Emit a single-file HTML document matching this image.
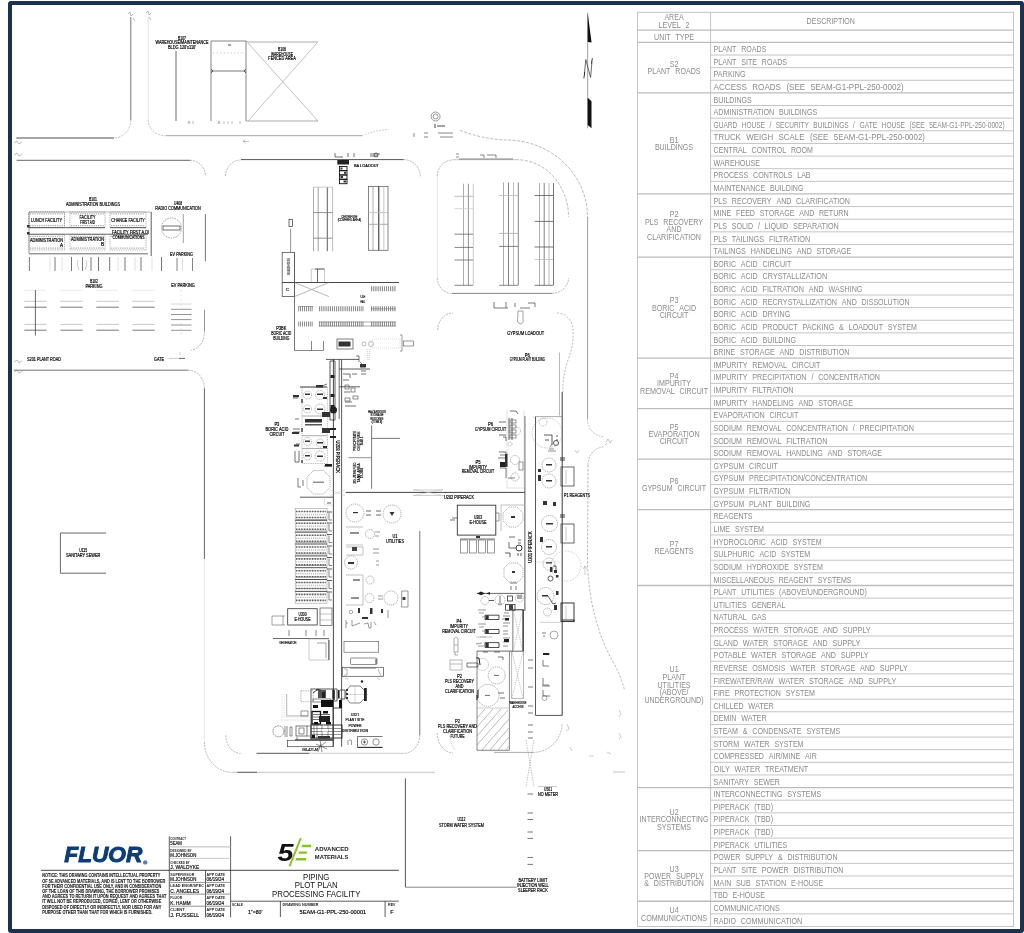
<!DOCTYPE html>
<html><head><meta charset="utf-8"><title>Piping Plot Plan</title>
<style>
html,body{margin:0;padding:0;background:#fff;width:1024px;height:933px;overflow:hidden}
#frame{position:absolute;left:7.5px;top:1px;width:1016.5px;height:932px;box-sizing:border-box;border:4.5px solid #1c3050;border-radius:3px}
svg{position:absolute;left:0;top:0;will-change:transform}
.t{font-family:"Liberation Sans",sans-serif;font-size:9.2px;fill:#8a8a8a}
.tl{stroke:#c4c4c4;stroke-width:1;fill:none}
.tg{stroke:#bcbcbc;stroke-width:1.3;fill:none}
.d{stroke:#333;stroke-width:0.8;fill:none}
.k{font-family:"Liberation Sans",sans-serif;fill:#222}
</style></head><body>
<svg width="1024" height="933" viewBox="0 0 1024 933">
<rect x="637.5" y="12.3" width="376.0" height="914.2" class="tl"/>
<line x1="710.6" y1="12.3" x2="710.6" y2="926.5" class="tl"/>
<line x1="637.5" y1="30.2" x2="1013.5" y2="30.2" class="tg"/>
<line x1="637.5" y1="42.4" x2="1013.5" y2="42.4" class="tg"/>
<line x1="710.6" y1="55.03" x2="1013.5" y2="55.03" class="tl"/>
<line x1="710.6" y1="67.66" x2="1013.5" y2="67.66" class="tl"/>
<line x1="710.6" y1="80.29" x2="1013.5" y2="80.29" class="tl"/>
<line x1="637.5" y1="92.92" x2="1013.5" y2="92.92" class="tg"/>
<line x1="710.6" y1="105.55" x2="1013.5" y2="105.55" class="tl"/>
<line x1="710.6" y1="118.18" x2="1013.5" y2="118.18" class="tl"/>
<line x1="710.6" y1="130.81" x2="1013.5" y2="130.81" class="tl"/>
<line x1="710.6" y1="143.44" x2="1013.5" y2="143.44" class="tl"/>
<line x1="710.6" y1="156.07" x2="1013.5" y2="156.07" class="tl"/>
<line x1="710.6" y1="168.70" x2="1013.5" y2="168.70" class="tl"/>
<line x1="710.6" y1="181.33" x2="1013.5" y2="181.33" class="tl"/>
<line x1="637.5" y1="193.96" x2="1013.5" y2="193.96" class="tg"/>
<line x1="710.6" y1="206.59" x2="1013.5" y2="206.59" class="tl"/>
<line x1="710.6" y1="219.22" x2="1013.5" y2="219.22" class="tl"/>
<line x1="710.6" y1="231.85" x2="1013.5" y2="231.85" class="tl"/>
<line x1="710.6" y1="244.48" x2="1013.5" y2="244.48" class="tl"/>
<line x1="637.5" y1="257.11" x2="1013.5" y2="257.11" class="tg"/>
<line x1="710.6" y1="269.74" x2="1013.5" y2="269.74" class="tl"/>
<line x1="710.6" y1="282.37" x2="1013.5" y2="282.37" class="tl"/>
<line x1="710.6" y1="295.00" x2="1013.5" y2="295.00" class="tl"/>
<line x1="710.6" y1="307.63" x2="1013.5" y2="307.63" class="tl"/>
<line x1="710.6" y1="320.26" x2="1013.5" y2="320.26" class="tl"/>
<line x1="710.6" y1="332.89" x2="1013.5" y2="332.89" class="tl"/>
<line x1="710.6" y1="345.52" x2="1013.5" y2="345.52" class="tl"/>
<line x1="637.5" y1="358.15" x2="1013.5" y2="358.15" class="tg"/>
<line x1="710.6" y1="370.78" x2="1013.5" y2="370.78" class="tl"/>
<line x1="710.6" y1="383.41" x2="1013.5" y2="383.41" class="tl"/>
<line x1="710.6" y1="396.04" x2="1013.5" y2="396.04" class="tl"/>
<line x1="637.5" y1="408.67" x2="1013.5" y2="408.67" class="tg"/>
<line x1="710.6" y1="421.30" x2="1013.5" y2="421.30" class="tl"/>
<line x1="710.6" y1="433.93" x2="1013.5" y2="433.93" class="tl"/>
<line x1="710.6" y1="446.56" x2="1013.5" y2="446.56" class="tl"/>
<line x1="637.5" y1="459.19" x2="1013.5" y2="459.19" class="tg"/>
<line x1="710.6" y1="471.82" x2="1013.5" y2="471.82" class="tl"/>
<line x1="710.6" y1="484.45" x2="1013.5" y2="484.45" class="tl"/>
<line x1="710.6" y1="497.08" x2="1013.5" y2="497.08" class="tl"/>
<line x1="637.5" y1="509.71" x2="1013.5" y2="509.71" class="tg"/>
<line x1="710.6" y1="522.34" x2="1013.5" y2="522.34" class="tl"/>
<line x1="710.6" y1="534.97" x2="1013.5" y2="534.97" class="tl"/>
<line x1="710.6" y1="547.60" x2="1013.5" y2="547.60" class="tl"/>
<line x1="710.6" y1="560.23" x2="1013.5" y2="560.23" class="tl"/>
<line x1="710.6" y1="572.86" x2="1013.5" y2="572.86" class="tl"/>
<line x1="637.5" y1="585.49" x2="1013.5" y2="585.49" class="tg"/>
<line x1="710.6" y1="598.12" x2="1013.5" y2="598.12" class="tl"/>
<line x1="710.6" y1="610.75" x2="1013.5" y2="610.75" class="tl"/>
<line x1="710.6" y1="623.38" x2="1013.5" y2="623.38" class="tl"/>
<line x1="710.6" y1="636.01" x2="1013.5" y2="636.01" class="tl"/>
<line x1="710.6" y1="648.64" x2="1013.5" y2="648.64" class="tl"/>
<line x1="710.6" y1="661.27" x2="1013.5" y2="661.27" class="tl"/>
<line x1="710.6" y1="673.90" x2="1013.5" y2="673.90" class="tl"/>
<line x1="710.6" y1="686.53" x2="1013.5" y2="686.53" class="tl"/>
<line x1="710.6" y1="699.16" x2="1013.5" y2="699.16" class="tl"/>
<line x1="710.6" y1="711.79" x2="1013.5" y2="711.79" class="tl"/>
<line x1="710.6" y1="724.42" x2="1013.5" y2="724.42" class="tl"/>
<line x1="710.6" y1="737.05" x2="1013.5" y2="737.05" class="tl"/>
<line x1="710.6" y1="749.68" x2="1013.5" y2="749.68" class="tl"/>
<line x1="710.6" y1="762.31" x2="1013.5" y2="762.31" class="tl"/>
<line x1="710.6" y1="774.94" x2="1013.5" y2="774.94" class="tl"/>
<line x1="637.5" y1="787.57" x2="1013.5" y2="787.57" class="tg"/>
<line x1="710.6" y1="800.20" x2="1013.5" y2="800.20" class="tl"/>
<line x1="710.6" y1="812.83" x2="1013.5" y2="812.83" class="tl"/>
<line x1="710.6" y1="825.46" x2="1013.5" y2="825.46" class="tl"/>
<line x1="710.6" y1="838.09" x2="1013.5" y2="838.09" class="tl"/>
<line x1="637.5" y1="850.72" x2="1013.5" y2="850.72" class="tg"/>
<line x1="710.6" y1="863.35" x2="1013.5" y2="863.35" class="tl"/>
<line x1="710.6" y1="875.98" x2="1013.5" y2="875.98" class="tl"/>
<line x1="710.6" y1="888.61" x2="1013.5" y2="888.61" class="tl"/>
<line x1="637.5" y1="901.24" x2="1013.5" y2="901.24" class="tg"/>
<line x1="710.6" y1="913.87" x2="1013.5" y2="913.87" class="tl"/>
<text x="664.4" y="20.2" textLength="19.3" lengthAdjust="spacingAndGlyphs" class="t">AREA</text>
<text x="658.6" y="27.6" textLength="22.1" lengthAdjust="spacingAndGlyphs" class="t">LEVEL</text>
<text x="685.5" y="27.6" textLength="3.9" lengthAdjust="spacingAndGlyphs" class="t">2</text>
<text x="806.6" y="23.6" textLength="48.4" lengthAdjust="spacingAndGlyphs" class="t">DESCRIPTION</text>
<text x="654.1" y="39.6" textLength="16.5" lengthAdjust="spacingAndGlyphs" class="t">UNIT</text>
<text x="675.5" y="39.6" textLength="18.5" lengthAdjust="spacingAndGlyphs" class="t">TYPE</text>
<text x="713.6" y="52.0" textLength="22.8" lengthAdjust="spacingAndGlyphs" class="t">PLANT</text>
<text x="741.2" y="52.0" textLength="25.2" lengthAdjust="spacingAndGlyphs" class="t">ROADS</text>
<text x="713.6" y="64.6" textLength="22.8" lengthAdjust="spacingAndGlyphs" class="t">PLANT</text>
<text x="741.2" y="64.6" textLength="15.8" lengthAdjust="spacingAndGlyphs" class="t">SITE</text>
<text x="761.8" y="64.6" textLength="25.2" lengthAdjust="spacingAndGlyphs" class="t">ROADS</text>
<text x="713.6" y="77.3" textLength="31.9" lengthAdjust="spacingAndGlyphs" class="t">PARKING</text>
<text x="713.6" y="89.9" textLength="33.2" lengthAdjust="spacingAndGlyphs" class="t">ACCESS</text>
<text x="752.3" y="89.9" textLength="28.7" lengthAdjust="spacingAndGlyphs" class="t">ROADS</text>
<text x="786.4" y="89.9" textLength="18.8" lengthAdjust="spacingAndGlyphs" class="t">(SEE</text>
<text x="810.7" y="89.9" textLength="92.9" lengthAdjust="spacingAndGlyphs" class="t">5EAM-G1-PPL-250-0002)</text>
<text x="669.7" y="67.0" textLength="8.7" lengthAdjust="spacingAndGlyphs" class="t">S2</text>
<text x="647.6" y="74.4" textLength="22.8" lengthAdjust="spacingAndGlyphs" class="t">PLANT</text>
<text x="675.3" y="74.4" textLength="25.2" lengthAdjust="spacingAndGlyphs" class="t">ROADS</text>
<text x="713.6" y="102.5" textLength="38.2" lengthAdjust="spacingAndGlyphs" class="t">BUILDINGS</text>
<text x="713.6" y="115.2" textLength="60.6" lengthAdjust="spacingAndGlyphs" class="t">ADMINISTRATION</text>
<text x="779.0" y="115.2" textLength="38.2" lengthAdjust="spacingAndGlyphs" class="t">BUILDINGS</text>
<text x="713.6" y="127.8" textLength="23.7" lengthAdjust="spacingAndGlyphs" class="t">GUARD</text>
<text x="741.7" y="127.8" textLength="23.3" lengthAdjust="spacingAndGlyphs" class="t">HOUSE</text>
<text x="769.5" y="127.8" textLength="1.8" lengthAdjust="spacingAndGlyphs" class="t">/</text>
<text x="775.7" y="127.8" textLength="33.2" lengthAdjust="spacingAndGlyphs" class="t">SECURITY</text>
<text x="813.3" y="127.8" textLength="35.3" lengthAdjust="spacingAndGlyphs" class="t">BUILDINGS</text>
<text x="853.1" y="127.8" textLength="1.8" lengthAdjust="spacingAndGlyphs" class="t">/</text>
<text x="859.4" y="127.8" textLength="17.9" lengthAdjust="spacingAndGlyphs" class="t">GATE</text>
<text x="881.7" y="127.8" textLength="23.3" lengthAdjust="spacingAndGlyphs" class="t">HOUSE</text>
<text x="909.4" y="127.8" textLength="15.3" lengthAdjust="spacingAndGlyphs" class="t">(SEE</text>
<text x="929.2" y="127.8" textLength="75.4" lengthAdjust="spacingAndGlyphs" class="t">5EAM-G1-PPL-250-0002)</text>
<text x="713.6" y="140.4" textLength="27.3" lengthAdjust="spacingAndGlyphs" class="t">TRUCK</text>
<text x="746.3" y="140.4" textLength="26.9" lengthAdjust="spacingAndGlyphs" class="t">WEIGH</text>
<text x="778.5" y="140.4" textLength="26.0" lengthAdjust="spacingAndGlyphs" class="t">SCALE</text>
<text x="809.9" y="140.4" textLength="18.5" lengthAdjust="spacingAndGlyphs" class="t">(SEE</text>
<text x="833.8" y="140.4" textLength="91.2" lengthAdjust="spacingAndGlyphs" class="t">5EAM-G1-PPL-250-0002)</text>
<text x="713.6" y="153.0" textLength="33.1" lengthAdjust="spacingAndGlyphs" class="t">CENTRAL</text>
<text x="751.5" y="153.0" textLength="34.7" lengthAdjust="spacingAndGlyphs" class="t">CONTROL</text>
<text x="790.9" y="153.0" textLength="22.0" lengthAdjust="spacingAndGlyphs" class="t">ROOM</text>
<text x="713.6" y="165.7" textLength="46.5" lengthAdjust="spacingAndGlyphs" class="t">WAREHOUSE</text>
<text x="713.6" y="178.3" textLength="34.7" lengthAdjust="spacingAndGlyphs" class="t">PROCESS</text>
<text x="753.1" y="178.3" textLength="39.4" lengthAdjust="spacingAndGlyphs" class="t">CONTROLS</text>
<text x="797.2" y="178.3" textLength="13.4" lengthAdjust="spacingAndGlyphs" class="t">LAB</text>
<text x="713.6" y="190.9" textLength="51.6" lengthAdjust="spacingAndGlyphs" class="t">MAINTENANCE</text>
<text x="770.0" y="190.9" textLength="33.5" lengthAdjust="spacingAndGlyphs" class="t">BUILDING</text>
<text x="669.7" y="142.7" textLength="8.7" lengthAdjust="spacingAndGlyphs" class="t">B1</text>
<text x="654.9" y="150.1" textLength="38.2" lengthAdjust="spacingAndGlyphs" class="t">BUILDINGS</text>
<text x="713.6" y="203.6" textLength="13.4" lengthAdjust="spacingAndGlyphs" class="t">PLS</text>
<text x="731.8" y="203.6" textLength="39.8" lengthAdjust="spacingAndGlyphs" class="t">RECOVERY</text>
<text x="776.4" y="203.6" textLength="15.0" lengthAdjust="spacingAndGlyphs" class="t">AND</text>
<text x="796.1" y="203.6" textLength="53.9" lengthAdjust="spacingAndGlyphs" class="t">CLARIFICATION</text>
<text x="713.6" y="216.2" textLength="17.7" lengthAdjust="spacingAndGlyphs" class="t">MINE</text>
<text x="736.1" y="216.2" textLength="18.9" lengthAdjust="spacingAndGlyphs" class="t">FEED</text>
<text x="759.8" y="216.2" textLength="34.7" lengthAdjust="spacingAndGlyphs" class="t">STORAGE</text>
<text x="799.3" y="216.2" textLength="15.0" lengthAdjust="spacingAndGlyphs" class="t">AND</text>
<text x="819.0" y="216.2" textLength="29.5" lengthAdjust="spacingAndGlyphs" class="t">RETURN</text>
<text x="713.6" y="228.8" textLength="13.4" lengthAdjust="spacingAndGlyphs" class="t">PLS</text>
<text x="731.8" y="228.8" textLength="21.3" lengthAdjust="spacingAndGlyphs" class="t">SOLID</text>
<text x="757.9" y="228.8" textLength="2.0" lengthAdjust="spacingAndGlyphs" class="t">/</text>
<text x="764.6" y="228.8" textLength="23.6" lengthAdjust="spacingAndGlyphs" class="t">LIQUID</text>
<text x="793.1" y="228.8" textLength="45.7" lengthAdjust="spacingAndGlyphs" class="t">SEPARATION</text>
<text x="713.6" y="241.5" textLength="13.4" lengthAdjust="spacingAndGlyphs" class="t">PLS</text>
<text x="731.8" y="241.5" textLength="32.3" lengthAdjust="spacingAndGlyphs" class="t">TAILINGS</text>
<text x="768.9" y="241.5" textLength="41.3" lengthAdjust="spacingAndGlyphs" class="t">FILTRATION</text>
<text x="713.6" y="254.1" textLength="32.3" lengthAdjust="spacingAndGlyphs" class="t">TAILINGS</text>
<text x="750.7" y="254.1" textLength="41.4" lengthAdjust="spacingAndGlyphs" class="t">HANDELING</text>
<text x="796.8" y="254.1" textLength="15.0" lengthAdjust="spacingAndGlyphs" class="t">AND</text>
<text x="816.6" y="254.1" textLength="34.7" lengthAdjust="spacingAndGlyphs" class="t">STORAGE</text>
<text x="669.7" y="217.4" textLength="8.7" lengthAdjust="spacingAndGlyphs" class="t">P2</text>
<text x="645.1" y="224.8" textLength="13.4" lengthAdjust="spacingAndGlyphs" class="t">PLS</text>
<text x="663.3" y="224.8" textLength="39.8" lengthAdjust="spacingAndGlyphs" class="t">RECOVERY</text>
<text x="666.6" y="232.2" textLength="15.0" lengthAdjust="spacingAndGlyphs" class="t">AND</text>
<text x="647.1" y="239.6" textLength="53.9" lengthAdjust="spacingAndGlyphs" class="t">CLARIFICATION</text>
<text x="713.6" y="266.7" textLength="22.4" lengthAdjust="spacingAndGlyphs" class="t">BORIC</text>
<text x="740.8" y="266.7" textLength="16.9" lengthAdjust="spacingAndGlyphs" class="t">ACID</text>
<text x="762.6" y="266.7" textLength="28.7" lengthAdjust="spacingAndGlyphs" class="t">CIRCUIT</text>
<text x="713.6" y="279.3" textLength="22.4" lengthAdjust="spacingAndGlyphs" class="t">BORIC</text>
<text x="740.8" y="279.3" textLength="16.9" lengthAdjust="spacingAndGlyphs" class="t">ACID</text>
<text x="762.6" y="279.3" textLength="64.6" lengthAdjust="spacingAndGlyphs" class="t">CRYSTALLIZATION</text>
<text x="713.6" y="292.0" textLength="22.4" lengthAdjust="spacingAndGlyphs" class="t">BORIC</text>
<text x="740.8" y="292.0" textLength="16.9" lengthAdjust="spacingAndGlyphs" class="t">ACID</text>
<text x="762.6" y="292.0" textLength="41.3" lengthAdjust="spacingAndGlyphs" class="t">FILTRATION</text>
<text x="808.7" y="292.0" textLength="15.0" lengthAdjust="spacingAndGlyphs" class="t">AND</text>
<text x="828.5" y="292.0" textLength="33.9" lengthAdjust="spacingAndGlyphs" class="t">WASHING</text>
<text x="713.6" y="304.6" textLength="22.4" lengthAdjust="spacingAndGlyphs" class="t">BORIC</text>
<text x="740.8" y="304.6" textLength="16.9" lengthAdjust="spacingAndGlyphs" class="t">ACID</text>
<text x="762.6" y="304.6" textLength="74.4" lengthAdjust="spacingAndGlyphs" class="t">RECRYSTALLIZATION</text>
<text x="841.8" y="304.6" textLength="15.0" lengthAdjust="spacingAndGlyphs" class="t">AND</text>
<text x="861.6" y="304.6" textLength="48.0" lengthAdjust="spacingAndGlyphs" class="t">DISSOLUTION</text>
<text x="713.6" y="317.2" textLength="22.4" lengthAdjust="spacingAndGlyphs" class="t">BORIC</text>
<text x="740.8" y="317.2" textLength="16.9" lengthAdjust="spacingAndGlyphs" class="t">ACID</text>
<text x="762.6" y="317.2" textLength="27.6" lengthAdjust="spacingAndGlyphs" class="t">DRYING</text>
<text x="713.6" y="329.9" textLength="22.4" lengthAdjust="spacingAndGlyphs" class="t">BORIC</text>
<text x="740.8" y="329.9" textLength="16.9" lengthAdjust="spacingAndGlyphs" class="t">ACID</text>
<text x="762.6" y="329.9" textLength="35.0" lengthAdjust="spacingAndGlyphs" class="t">PRODUCT</text>
<text x="802.4" y="329.9" textLength="31.9" lengthAdjust="spacingAndGlyphs" class="t">PACKING</text>
<text x="839.1" y="329.9" textLength="4.7" lengthAdjust="spacingAndGlyphs" class="t">&amp;</text>
<text x="848.7" y="329.9" textLength="34.3" lengthAdjust="spacingAndGlyphs" class="t">LOADOUT</text>
<text x="887.7" y="329.9" textLength="29.1" lengthAdjust="spacingAndGlyphs" class="t">SYSTEM</text>
<text x="713.6" y="342.5" textLength="22.4" lengthAdjust="spacingAndGlyphs" class="t">BORIC</text>
<text x="740.8" y="342.5" textLength="16.9" lengthAdjust="spacingAndGlyphs" class="t">ACID</text>
<text x="762.6" y="342.5" textLength="33.5" lengthAdjust="spacingAndGlyphs" class="t">BUILDING</text>
<text x="713.6" y="355.1" textLength="21.7" lengthAdjust="spacingAndGlyphs" class="t">BRINE</text>
<text x="740.1" y="355.1" textLength="34.7" lengthAdjust="spacingAndGlyphs" class="t">STORAGE</text>
<text x="779.5" y="355.1" textLength="15.0" lengthAdjust="spacingAndGlyphs" class="t">AND</text>
<text x="799.3" y="355.1" textLength="50.0" lengthAdjust="spacingAndGlyphs" class="t">DISTRIBUTION</text>
<text x="669.7" y="303.2" textLength="8.7" lengthAdjust="spacingAndGlyphs" class="t">P3</text>
<text x="652.0" y="310.6" textLength="22.4" lengthAdjust="spacingAndGlyphs" class="t">BORIC</text>
<text x="679.2" y="310.6" textLength="16.9" lengthAdjust="spacingAndGlyphs" class="t">ACID</text>
<text x="659.7" y="318.0" textLength="28.7" lengthAdjust="spacingAndGlyphs" class="t">CIRCUIT</text>
<text x="713.6" y="367.8" textLength="33.9" lengthAdjust="spacingAndGlyphs" class="t">IMPURITY</text>
<text x="752.3" y="367.8" textLength="34.7" lengthAdjust="spacingAndGlyphs" class="t">REMOVAL</text>
<text x="791.7" y="367.8" textLength="28.7" lengthAdjust="spacingAndGlyphs" class="t">CIRCUIT</text>
<text x="713.6" y="380.4" textLength="33.9" lengthAdjust="spacingAndGlyphs" class="t">IMPURITY</text>
<text x="752.3" y="380.4" textLength="54.3" lengthAdjust="spacingAndGlyphs" class="t">PRECIPITATION</text>
<text x="811.4" y="380.4" textLength="2.0" lengthAdjust="spacingAndGlyphs" class="t">/</text>
<text x="818.2" y="380.4" textLength="61.8" lengthAdjust="spacingAndGlyphs" class="t">CONCENTRATION</text>
<text x="713.6" y="393.0" textLength="33.9" lengthAdjust="spacingAndGlyphs" class="t">IMPURITY</text>
<text x="752.3" y="393.0" textLength="41.3" lengthAdjust="spacingAndGlyphs" class="t">FILTRATION</text>
<text x="713.6" y="405.6" textLength="33.9" lengthAdjust="spacingAndGlyphs" class="t">IMPURITY</text>
<text x="752.3" y="405.6" textLength="41.4" lengthAdjust="spacingAndGlyphs" class="t">HANDELING</text>
<text x="798.4" y="405.6" textLength="15.0" lengthAdjust="spacingAndGlyphs" class="t">AND</text>
<text x="818.2" y="405.6" textLength="34.7" lengthAdjust="spacingAndGlyphs" class="t">STORAGE</text>
<text x="669.7" y="379.0" textLength="8.7" lengthAdjust="spacingAndGlyphs" class="t">P4</text>
<text x="657.1" y="386.4" textLength="33.9" lengthAdjust="spacingAndGlyphs" class="t">IMPURITY</text>
<text x="640.0" y="393.8" textLength="34.7" lengthAdjust="spacingAndGlyphs" class="t">REMOVAL</text>
<text x="679.4" y="393.8" textLength="28.7" lengthAdjust="spacingAndGlyphs" class="t">CIRCUIT</text>
<text x="713.6" y="418.3" textLength="51.2" lengthAdjust="spacingAndGlyphs" class="t">EVAPORATION</text>
<text x="769.6" y="418.3" textLength="28.7" lengthAdjust="spacingAndGlyphs" class="t">CIRCUIT</text>
<text x="713.6" y="430.9" textLength="28.3" lengthAdjust="spacingAndGlyphs" class="t">SODIUM</text>
<text x="746.8" y="430.9" textLength="34.7" lengthAdjust="spacingAndGlyphs" class="t">REMOVAL</text>
<text x="786.2" y="430.9" textLength="61.8" lengthAdjust="spacingAndGlyphs" class="t">CONCENTRATION</text>
<text x="852.8" y="430.9" textLength="2.0" lengthAdjust="spacingAndGlyphs" class="t">/</text>
<text x="859.6" y="430.9" textLength="54.3" lengthAdjust="spacingAndGlyphs" class="t">PRECIPITATION</text>
<text x="713.6" y="443.5" textLength="28.3" lengthAdjust="spacingAndGlyphs" class="t">SODIUM</text>
<text x="746.8" y="443.5" textLength="34.7" lengthAdjust="spacingAndGlyphs" class="t">REMOVAL</text>
<text x="786.2" y="443.5" textLength="41.3" lengthAdjust="spacingAndGlyphs" class="t">FILTRATION</text>
<text x="713.6" y="456.2" textLength="28.3" lengthAdjust="spacingAndGlyphs" class="t">SODIUM</text>
<text x="746.8" y="456.2" textLength="34.7" lengthAdjust="spacingAndGlyphs" class="t">REMOVAL</text>
<text x="786.2" y="456.2" textLength="36.6" lengthAdjust="spacingAndGlyphs" class="t">HANDLING</text>
<text x="827.6" y="456.2" textLength="15.0" lengthAdjust="spacingAndGlyphs" class="t">AND</text>
<text x="847.4" y="456.2" textLength="34.7" lengthAdjust="spacingAndGlyphs" class="t">STORAGE</text>
<text x="669.7" y="429.5" textLength="8.7" lengthAdjust="spacingAndGlyphs" class="t">P5</text>
<text x="648.5" y="436.9" textLength="51.2" lengthAdjust="spacingAndGlyphs" class="t">EVAPORATION</text>
<text x="659.7" y="444.3" textLength="28.7" lengthAdjust="spacingAndGlyphs" class="t">CIRCUIT</text>
<text x="713.6" y="468.8" textLength="30.7" lengthAdjust="spacingAndGlyphs" class="t">GYPSUM</text>
<text x="749.1" y="468.8" textLength="28.7" lengthAdjust="spacingAndGlyphs" class="t">CIRCUIT</text>
<text x="713.6" y="481.4" textLength="30.7" lengthAdjust="spacingAndGlyphs" class="t">GYPSUM</text>
<text x="749.1" y="481.4" textLength="118.1" lengthAdjust="spacingAndGlyphs" class="t">PRECIPITATION/CONCENTRATION</text>
<text x="713.6" y="494.1" textLength="30.7" lengthAdjust="spacingAndGlyphs" class="t">GYPSUM</text>
<text x="749.1" y="494.1" textLength="41.3" lengthAdjust="spacingAndGlyphs" class="t">FILTRATION</text>
<text x="713.6" y="506.7" textLength="30.7" lengthAdjust="spacingAndGlyphs" class="t">GYPSUM</text>
<text x="749.1" y="506.7" textLength="22.8" lengthAdjust="spacingAndGlyphs" class="t">PLANT</text>
<text x="776.8" y="506.7" textLength="33.5" lengthAdjust="spacingAndGlyphs" class="t">BUILDING</text>
<text x="669.7" y="483.8" textLength="8.7" lengthAdjust="spacingAndGlyphs" class="t">P6</text>
<text x="641.9" y="491.1" textLength="30.7" lengthAdjust="spacingAndGlyphs" class="t">GYPSUM</text>
<text x="677.4" y="491.1" textLength="28.7" lengthAdjust="spacingAndGlyphs" class="t">CIRCUIT</text>
<text x="713.6" y="519.3" textLength="39.0" lengthAdjust="spacingAndGlyphs" class="t">REAGENTS</text>
<text x="713.6" y="531.9" textLength="16.5" lengthAdjust="spacingAndGlyphs" class="t">LIME</text>
<text x="734.9" y="531.9" textLength="29.1" lengthAdjust="spacingAndGlyphs" class="t">SYSTEM</text>
<text x="713.6" y="544.6" textLength="52.4" lengthAdjust="spacingAndGlyphs" class="t">HYDROCLORIC</text>
<text x="770.8" y="544.6" textLength="16.9" lengthAdjust="spacingAndGlyphs" class="t">ACID</text>
<text x="792.5" y="544.6" textLength="29.1" lengthAdjust="spacingAndGlyphs" class="t">SYSTEM</text>
<text x="713.6" y="557.2" textLength="41.0" lengthAdjust="spacingAndGlyphs" class="t">SULPHURIC</text>
<text x="759.4" y="557.2" textLength="16.9" lengthAdjust="spacingAndGlyphs" class="t">ACID</text>
<text x="781.1" y="557.2" textLength="29.1" lengthAdjust="spacingAndGlyphs" class="t">SYSTEM</text>
<text x="713.6" y="569.8" textLength="28.3" lengthAdjust="spacingAndGlyphs" class="t">SODIUM</text>
<text x="746.8" y="569.8" textLength="42.1" lengthAdjust="spacingAndGlyphs" class="t">HYDROXIDE</text>
<text x="793.7" y="569.8" textLength="29.1" lengthAdjust="spacingAndGlyphs" class="t">SYSTEM</text>
<text x="713.6" y="582.5" textLength="60.3" lengthAdjust="spacingAndGlyphs" class="t">MISCELLANEOUS</text>
<text x="778.7" y="582.5" textLength="34.3" lengthAdjust="spacingAndGlyphs" class="t">REAGENT</text>
<text x="817.7" y="582.5" textLength="33.9" lengthAdjust="spacingAndGlyphs" class="t">SYSTEMS</text>
<text x="669.7" y="546.9" textLength="8.7" lengthAdjust="spacingAndGlyphs" class="t">P7</text>
<text x="654.6" y="554.3" textLength="39.0" lengthAdjust="spacingAndGlyphs" class="t">REAGENTS</text>
<text x="713.6" y="595.1" textLength="22.8" lengthAdjust="spacingAndGlyphs" class="t">PLANT</text>
<text x="741.2" y="595.1" textLength="33.1" lengthAdjust="spacingAndGlyphs" class="t">UTILITIES</text>
<text x="779.1" y="595.1" textLength="87.8" lengthAdjust="spacingAndGlyphs" class="t">(ABOVE/UNDERGROUND)</text>
<text x="713.6" y="607.7" textLength="33.1" lengthAdjust="spacingAndGlyphs" class="t">UTILITIES</text>
<text x="751.5" y="607.7" textLength="33.9" lengthAdjust="spacingAndGlyphs" class="t">GENERAL</text>
<text x="713.6" y="620.4" textLength="33.1" lengthAdjust="spacingAndGlyphs" class="t">NATURAL</text>
<text x="751.5" y="620.4" textLength="15.0" lengthAdjust="spacingAndGlyphs" class="t">GAS</text>
<text x="713.6" y="633.0" textLength="34.7" lengthAdjust="spacingAndGlyphs" class="t">PROCESS</text>
<text x="753.1" y="633.0" textLength="25.6" lengthAdjust="spacingAndGlyphs" class="t">WATER</text>
<text x="783.5" y="633.0" textLength="34.7" lengthAdjust="spacingAndGlyphs" class="t">STORAGE</text>
<text x="822.9" y="633.0" textLength="15.0" lengthAdjust="spacingAndGlyphs" class="t">AND</text>
<text x="842.7" y="633.0" textLength="28.0" lengthAdjust="spacingAndGlyphs" class="t">SUPPLY</text>
<text x="713.6" y="645.6" textLength="24.4" lengthAdjust="spacingAndGlyphs" class="t">GLAND</text>
<text x="742.8" y="645.6" textLength="25.6" lengthAdjust="spacingAndGlyphs" class="t">WATER</text>
<text x="773.2" y="645.6" textLength="34.7" lengthAdjust="spacingAndGlyphs" class="t">STORAGE</text>
<text x="812.7" y="645.6" textLength="15.0" lengthAdjust="spacingAndGlyphs" class="t">AND</text>
<text x="832.4" y="645.6" textLength="28.0" lengthAdjust="spacingAndGlyphs" class="t">SUPPLY</text>
<text x="713.6" y="658.2" textLength="32.7" lengthAdjust="spacingAndGlyphs" class="t">POTABLE</text>
<text x="751.1" y="658.2" textLength="25.6" lengthAdjust="spacingAndGlyphs" class="t">WATER</text>
<text x="781.5" y="658.2" textLength="34.7" lengthAdjust="spacingAndGlyphs" class="t">STORAGE</text>
<text x="820.9" y="658.2" textLength="15.0" lengthAdjust="spacingAndGlyphs" class="t">AND</text>
<text x="840.7" y="658.2" textLength="28.0" lengthAdjust="spacingAndGlyphs" class="t">SUPPLY</text>
<text x="713.6" y="670.9" textLength="33.9" lengthAdjust="spacingAndGlyphs" class="t">REVERSE</text>
<text x="752.3" y="670.9" textLength="33.1" lengthAdjust="spacingAndGlyphs" class="t">OSMOSIS</text>
<text x="790.2" y="670.9" textLength="25.6" lengthAdjust="spacingAndGlyphs" class="t">WATER</text>
<text x="820.5" y="670.9" textLength="34.7" lengthAdjust="spacingAndGlyphs" class="t">STORAGE</text>
<text x="860.0" y="670.9" textLength="15.0" lengthAdjust="spacingAndGlyphs" class="t">AND</text>
<text x="879.8" y="670.9" textLength="28.0" lengthAdjust="spacingAndGlyphs" class="t">SUPPLY</text>
<text x="713.6" y="683.5" textLength="60.2" lengthAdjust="spacingAndGlyphs" class="t">FIREWATER/RAW</text>
<text x="778.6" y="683.5" textLength="25.6" lengthAdjust="spacingAndGlyphs" class="t">WATER</text>
<text x="809.0" y="683.5" textLength="34.7" lengthAdjust="spacingAndGlyphs" class="t">STORAGE</text>
<text x="848.5" y="683.5" textLength="15.0" lengthAdjust="spacingAndGlyphs" class="t">AND</text>
<text x="868.3" y="683.5" textLength="28.0" lengthAdjust="spacingAndGlyphs" class="t">SUPPLY</text>
<text x="713.6" y="696.1" textLength="16.1" lengthAdjust="spacingAndGlyphs" class="t">FIRE</text>
<text x="734.5" y="696.1" textLength="46.5" lengthAdjust="spacingAndGlyphs" class="t">PROTECTION</text>
<text x="785.8" y="696.1" textLength="29.1" lengthAdjust="spacingAndGlyphs" class="t">SYSTEM</text>
<text x="713.6" y="708.8" textLength="29.9" lengthAdjust="spacingAndGlyphs" class="t">CHILLED</text>
<text x="748.3" y="708.8" textLength="25.6" lengthAdjust="spacingAndGlyphs" class="t">WATER</text>
<text x="713.6" y="721.4" textLength="22.8" lengthAdjust="spacingAndGlyphs" class="t">DEMIN</text>
<text x="741.2" y="721.4" textLength="25.6" lengthAdjust="spacingAndGlyphs" class="t">WATER</text>
<text x="713.6" y="734.0" textLength="24.4" lengthAdjust="spacingAndGlyphs" class="t">STEAM</text>
<text x="742.8" y="734.0" textLength="4.7" lengthAdjust="spacingAndGlyphs" class="t">&amp;</text>
<text x="752.3" y="734.0" textLength="49.2" lengthAdjust="spacingAndGlyphs" class="t">CONDENSATE</text>
<text x="806.4" y="734.0" textLength="33.9" lengthAdjust="spacingAndGlyphs" class="t">SYSTEMS</text>
<text x="713.6" y="746.7" textLength="25.6" lengthAdjust="spacingAndGlyphs" class="t">STORM</text>
<text x="744.0" y="746.7" textLength="25.6" lengthAdjust="spacingAndGlyphs" class="t">WATER</text>
<text x="774.4" y="746.7" textLength="29.1" lengthAdjust="spacingAndGlyphs" class="t">SYSTEM</text>
<text x="713.6" y="759.3" textLength="50.4" lengthAdjust="spacingAndGlyphs" class="t">COMPRESSED</text>
<text x="768.8" y="759.3" textLength="31.5" lengthAdjust="spacingAndGlyphs" class="t">AIR/MINE</text>
<text x="805.1" y="759.3" textLength="11.8" lengthAdjust="spacingAndGlyphs" class="t">AIR</text>
<text x="713.6" y="771.9" textLength="16.2" lengthAdjust="spacingAndGlyphs" class="t">OILY</text>
<text x="734.6" y="771.9" textLength="25.6" lengthAdjust="spacingAndGlyphs" class="t">WATER</text>
<text x="764.9" y="771.9" textLength="43.3" lengthAdjust="spacingAndGlyphs" class="t">TREATMENT</text>
<text x="713.6" y="784.5" textLength="35.4" lengthAdjust="spacingAndGlyphs" class="t">SANITARY</text>
<text x="753.8" y="784.5" textLength="26.0" lengthAdjust="spacingAndGlyphs" class="t">SEWER</text>
<text x="669.5" y="672.1" textLength="9.1" lengthAdjust="spacingAndGlyphs" class="t">U1</text>
<text x="662.6" y="679.8" textLength="22.8" lengthAdjust="spacingAndGlyphs" class="t">PLANT</text>
<text x="657.5" y="687.5" textLength="33.1" lengthAdjust="spacingAndGlyphs" class="t">UTILITIES</text>
<text x="659.7" y="695.2" textLength="28.8" lengthAdjust="spacingAndGlyphs" class="t">(ABOVE/</text>
<text x="644.5" y="702.9" textLength="59.1" lengthAdjust="spacingAndGlyphs" class="t">UNDERGROUND)</text>
<text x="713.6" y="797.2" textLength="68.9" lengthAdjust="spacingAndGlyphs" class="t">INTERCONNECTING</text>
<text x="787.3" y="797.2" textLength="33.9" lengthAdjust="spacingAndGlyphs" class="t">SYSTEMS</text>
<text x="713.6" y="809.8" textLength="35.8" lengthAdjust="spacingAndGlyphs" class="t">PIPERACK</text>
<text x="754.2" y="809.8" textLength="18.9" lengthAdjust="spacingAndGlyphs" class="t">(TBD)</text>
<text x="713.6" y="822.4" textLength="35.8" lengthAdjust="spacingAndGlyphs" class="t">PIPERACK</text>
<text x="754.2" y="822.4" textLength="18.9" lengthAdjust="spacingAndGlyphs" class="t">(TBD)</text>
<text x="713.6" y="835.1" textLength="35.8" lengthAdjust="spacingAndGlyphs" class="t">PIPERACK</text>
<text x="754.2" y="835.1" textLength="18.9" lengthAdjust="spacingAndGlyphs" class="t">(TBD)</text>
<text x="713.6" y="847.7" textLength="35.8" lengthAdjust="spacingAndGlyphs" class="t">PIPERACK</text>
<text x="754.2" y="847.7" textLength="33.1" lengthAdjust="spacingAndGlyphs" class="t">UTILITIES</text>
<text x="669.5" y="814.7" textLength="9.1" lengthAdjust="spacingAndGlyphs" class="t">U2</text>
<text x="639.6" y="822.1" textLength="68.9" lengthAdjust="spacingAndGlyphs" class="t">INTERCONNECTING</text>
<text x="657.1" y="829.5" textLength="33.9" lengthAdjust="spacingAndGlyphs" class="t">SYSTEMS</text>
<text x="713.6" y="860.3" textLength="26.8" lengthAdjust="spacingAndGlyphs" class="t">POWER</text>
<text x="745.2" y="860.3" textLength="28.0" lengthAdjust="spacingAndGlyphs" class="t">SUPPLY</text>
<text x="777.9" y="860.3" textLength="4.7" lengthAdjust="spacingAndGlyphs" class="t">&amp;</text>
<text x="787.5" y="860.3" textLength="50.0" lengthAdjust="spacingAndGlyphs" class="t">DISTRIBUTION</text>
<text x="713.6" y="873.0" textLength="22.8" lengthAdjust="spacingAndGlyphs" class="t">PLANT</text>
<text x="741.2" y="873.0" textLength="15.8" lengthAdjust="spacingAndGlyphs" class="t">SITE</text>
<text x="761.8" y="873.0" textLength="26.8" lengthAdjust="spacingAndGlyphs" class="t">POWER</text>
<text x="793.4" y="873.0" textLength="50.0" lengthAdjust="spacingAndGlyphs" class="t">DISTRIBUTION</text>
<text x="713.6" y="885.6" textLength="17.7" lengthAdjust="spacingAndGlyphs" class="t">MAIN</text>
<text x="736.1" y="885.6" textLength="14.6" lengthAdjust="spacingAndGlyphs" class="t">SUB</text>
<text x="755.5" y="885.6" textLength="30.7" lengthAdjust="spacingAndGlyphs" class="t">STATION</text>
<text x="791.0" y="885.6" textLength="32.3" lengthAdjust="spacingAndGlyphs" class="t">E-HOUSE</text>
<text x="713.6" y="898.2" textLength="14.2" lengthAdjust="spacingAndGlyphs" class="t">TBD</text>
<text x="732.6" y="898.2" textLength="32.3" lengthAdjust="spacingAndGlyphs" class="t">E-HOUSE</text>
<text x="669.5" y="871.6" textLength="9.1" lengthAdjust="spacingAndGlyphs" class="t">U3</text>
<text x="644.3" y="879.0" textLength="26.8" lengthAdjust="spacingAndGlyphs" class="t">POWER</text>
<text x="675.9" y="879.0" textLength="28.0" lengthAdjust="spacingAndGlyphs" class="t">SUPPLY</text>
<text x="644.3" y="886.4" textLength="4.7" lengthAdjust="spacingAndGlyphs" class="t">&amp;</text>
<text x="653.8" y="886.4" textLength="50.0" lengthAdjust="spacingAndGlyphs" class="t">DISTRIBUTION</text>
<text x="713.6" y="910.8" textLength="66.1" lengthAdjust="spacingAndGlyphs" class="t">COMMUNICATIONS</text>
<text x="713.6" y="923.5" textLength="22.4" lengthAdjust="spacingAndGlyphs" class="t">RADIO</text>
<text x="740.8" y="923.5" textLength="61.4" lengthAdjust="spacingAndGlyphs" class="t">COMMUNICATION</text>
<text x="669.5" y="913.2" textLength="9.1" lengthAdjust="spacingAndGlyphs" class="t">U4</text>
<text x="641.0" y="920.6" textLength="66.1" lengthAdjust="spacingAndGlyphs" class="t">COMMUNICATIONS</text>
<g fill="none" stroke-linecap="butt">
<!-- top-left road -->
<line x1="130.8" y1="17" x2="130.8" y2="120" stroke="#777" stroke-width="1"/>
<line x1="148.2" y1="17" x2="148.2" y2="120" stroke="#ddd" stroke-width="0.8"/>
<path d="M130.8 120 A17 18 0 0 1 114 138" stroke="#aaa" stroke-width="0.7" stroke-dasharray="2 1"/>
<line x1="16.3" y1="138" x2="114" y2="138" stroke="#888" stroke-width="1.3"/>
<path d="M148.2 120 A17 16 0 0 0 165.5 135.7" stroke="#aaa" stroke-width="0.7" stroke-dasharray="2 1"/>
<line x1="166" y1="135.7" x2="362" y2="135.7" stroke="#999" stroke-width="0.9"/>
<path d="M362 135.7 Q376 130 389 129.5" stroke="#aaa" stroke-width="0.7" stroke-dasharray="1.5 1.5"/>
<path d="M460 130.3 Q482 139 506 140 A81 77 0 0 1 587.5 217" stroke="#999" stroke-width="0.7" stroke-dasharray="3 1.5"/>
<line x1="587.6" y1="217" x2="587.6" y2="419" stroke="#888" stroke-width="0.8"/>
<path d="M587.6 419 A16 17 0 0 0 603.5 436.5" stroke="#aaa" stroke-width="0.7" stroke-dasharray="2 1"/>
<path d="M606 442 L608 439 L610 443 L612 440 M605 445 L607 443" stroke="#888" stroke-width="0.5"/>
<path d="M603.5 447 A16 18 0 0 0 588 465" stroke="#aaa" stroke-width="0.7" stroke-dasharray="2 1"/>
<path d="M588 465 L587.5 565 Q590 620 612 660 Q622 678 624.4 690" stroke="#999" stroke-width="0.7" stroke-dasharray="2.5 1.5"/>
<path d="M619 710 L621 714 L619 717 M619 733 L621 737 L619 739 M607 752 L611 754 M589 756 L594 756 M567 724 L569 729 L566 731 M570 747 L572 751" stroke="#999" stroke-width="0.5"/>
<!-- lower road line -->
<line x1="16.6" y1="160.3" x2="190" y2="160.3" stroke="#555" stroke-width="0.9"/>
<path d="M190 160.3 A15.5 15.7 0 0 1 205.5 176" stroke="#999" stroke-width="0.7" stroke-dasharray="2 1"/>
<path d="M225.5 176 A15.5 16 0 0 1 241 160" stroke="#999" stroke-width="0.7" stroke-dasharray="2 1"/>
<line x1="241" y1="159.6" x2="403.7" y2="159.6" stroke="#444" stroke-width="0.9"/>
<path d="M403.7 159.6 A16.6 16.8 0 0 1 420.3 176.4" stroke="#999" stroke-width="0.7" stroke-dasharray="2 1"/>
<!-- inner block (racks area) -->
<path d="M437.3 176 A15.5 16 0 0 1 452.5 160" stroke="#999" stroke-width="0.7" stroke-dasharray="2 1"/>
<line x1="452.5" y1="159.7" x2="516" y2="159.7" stroke="#aaa" stroke-width="0.7"/>
<path d="M516 159.7 A52 57 0 0 1 568.5 217" stroke="#999" stroke-width="0.7" stroke-dasharray="3 1.5"/>
<line x1="437.3" y1="176" x2="437.3" y2="278" stroke="#ddd" stroke-width="0.7"/>
<path d="M437.3 278 A15 15.4 0 0 0 452 293.4" stroke="#999" stroke-width="0.7" stroke-dasharray="2 1"/>
<line x1="452" y1="293.4" x2="552" y2="293.4" stroke="#666" stroke-width="0.8"/>
<path d="M552 293.4 A16.5 15.4 0 0 0 568.5 278" stroke="#999" stroke-width="0.7" stroke-dasharray="2 1"/>
<!-- gypsum block -->
<path d="M437.7 330 A15.5 17 0 0 1 453 313" stroke="#999" stroke-width="0.7" stroke-dasharray="2 1"/>
<path d="M557 313 A16 17 0 0 1 573 330 Q574 345 568 360 Q562 378 563 392" stroke="#999" stroke-width="0.7" stroke-dasharray="2 1.5"/>
<line x1="559.5" y1="352.5" x2="559.5" y2="415.6" stroke="#999" stroke-width="0.7"/>
<line x1="562.2" y1="392" x2="562.2" y2="715.4" stroke="#222" stroke-width="0.9"/>
<!-- plant road left side -->
<line x1="205.4" y1="214" x2="205.4" y2="261.3" stroke="#555" stroke-width="0.8"/>
<line x1="204.5" y1="309.8" x2="204.5" y2="331.4" stroke="#777" stroke-width="0.8"/>
<path d="M204.5 331.4 A14 19 0 0 1 190.8 350.2" stroke="#999" stroke-width="0.7" stroke-dasharray="2 1"/>
<line x1="168.6" y1="358.4" x2="179" y2="358.4" stroke="#aaa" stroke-width="0.6"/>
<line x1="179" y1="358.4" x2="185" y2="358.4" stroke="#444" stroke-width="0.8"/>
<line x1="180" y1="352" x2="180" y2="355" stroke="#999" stroke-width="0.5"/>
<line x1="14" y1="370.2" x2="188.3" y2="370.2" stroke="#666" stroke-width="0.9"/>
<path d="M188.3 370.2 A16 18 0 0 1 204.4 388.2" stroke="#999" stroke-width="0.7" stroke-dasharray="2 1"/>
<line x1="204.4" y1="388.2" x2="204.4" y2="559" stroke="#555" stroke-width="0.9"/>
<line x1="204.4" y1="559" x2="204.4" y2="742" stroke="#ddd" stroke-width="0.7"/>
<path d="M204.4 742 A28 30 0 0 0 232.5 772.4" stroke="#999" stroke-width="0.7" stroke-dasharray="2 1"/>
<line x1="232.5" y1="772.3" x2="435" y2="772.3" stroke="#aaa" stroke-width="0.7"/>
<line x1="237.5" y1="772.3" x2="257" y2="772.3" stroke="#444" stroke-width="0.8"/>
<path d="M225.8 735.4 A15 18 0 0 0 240.6 753.4" stroke="#999" stroke-width="0.7" stroke-dasharray="2 1"/>
<line x1="256.5" y1="753.3" x2="309.4" y2="753.3" stroke="#444" stroke-width="0.9"/>
<line x1="309.4" y1="753.3" x2="404" y2="753.3" stroke="#bbb" stroke-width="0.7"/>
<line x1="419.8" y1="531" x2="419.8" y2="735" stroke="#555" stroke-width="0.8"/>
<path d="M419.8 735 A16 18.4 0 0 1 404 753.4" stroke="#999" stroke-width="0.7" stroke-dasharray="2 1"/>
<path d="M437.3 733 A16 20 0 0 0 453 753" stroke="#999" stroke-width="0.7" stroke-dasharray="2 1"/>
<line x1="494" y1="752.4" x2="533.4" y2="752.4" stroke="#888" stroke-width="0.7"/>
<path d="M533.4 752.4 A28.6 29 0 0 0 562 723.4" stroke="#999" stroke-width="0.7" stroke-dasharray="2 1"/>
<line x1="405.4" y1="778.5" x2="405.4" y2="887.2" stroke="#444" stroke-width="0.9"/>
<line x1="405.4" y1="887.2" x2="516.7" y2="887.2" stroke="#666" stroke-width="0.8"/>
<line x1="613" y1="772" x2="625" y2="772" stroke="#aaa" stroke-width="0.7"/>
</g>
<g fill="none" stroke-linecap="butt">
<!-- B107 -->
<line x1="176" y1="51" x2="176" y2="121" stroke="#444" stroke-width="0.8"/>
<path d="M211 121 L211 41 L246 41 L246 121" stroke="#666" stroke-width="0.8"/>
<path d="M188 124 L189 121 L190 124 M193 121 L193 124 M218 124 L219 121 L220 124 M224 121 L224 124 M228 121 L228 124 M232 121 L232 124 M240 121 L240 124" stroke="#777" stroke-width="0.5"/>
<path d="M243 141.4 L249 141.4 M243 141.4 L245.5 139.6 M243 141.4 L245.5 143.2" stroke="#888" stroke-width="0.5"/>
<line x1="211" y1="71" x2="246" y2="71" stroke="#555" stroke-width="0.8"/>
<line x1="228" y1="45" x2="231" y2="45" stroke="#222" stroke-width="0.8"/>
<!-- B108 -->
<path d="M246 42 L318 42 M246 121 L318 121" stroke="#888" stroke-width="0.7"/>
<path d="M213 53 L244 53" stroke="#999" stroke-width="0.5" stroke-dasharray="1.5 2"/>
<path d="M211 69 L213 71 L211 73 M246 69 L244 71 L246 73" stroke="#333" stroke-width="0.7"/>
<path d="M248 43 L318 121 M317 43 L248 121" stroke="#999" stroke-width="0.6"/>
<!-- admin B101 -->
<rect x="29" y="212" width="35.5" height="15.5" stroke="#666" stroke-width="0.8" stroke-dasharray="1 0.8" fill="none"/>
<rect x="70" y="212" width="35" height="15.5" stroke="#888" stroke-width="0.7" stroke-dasharray="1 0.8"/>
<rect x="110" y="212" width="36" height="15.5" stroke="#888" stroke-width="0.7" stroke-dasharray="1 0.8"/>
<rect x="29" y="234.5" width="35.5" height="15.5" stroke="#888" stroke-width="0.7" stroke-dasharray="1 0.8"/>
<rect x="70" y="234.5" width="35" height="15.5" stroke="#888" stroke-width="0.7" stroke-dasharray="1 0.8"/>
<rect x="110" y="234.5" width="36" height="15.5" stroke="#888" stroke-width="0.7" stroke-dasharray="1 0.8"/>
<line x1="29" y1="212" x2="151" y2="212" stroke="#888" stroke-width="0.6"/>
<line x1="29" y1="227.7" x2="105" y2="227.7" stroke="#444" stroke-width="0.9"/>
<line x1="110" y1="227.7" x2="146" y2="227.7" stroke="#444" stroke-width="0.9"/>
<line x1="29" y1="234.2" x2="148" y2="234.2" stroke="#444" stroke-width="0.8"/>
<line x1="29" y1="253.8" x2="148" y2="253.8" stroke="#444" stroke-width="0.8"/>
<line x1="151.2" y1="212" x2="151.2" y2="256" stroke="#333" stroke-width="0.8"/>
<line x1="29" y1="212" x2="29" y2="253.8" stroke="#777" stroke-width="0.7"/>
<rect x="27" y="225" width="2.5" height="2.5" fill="#333" stroke="none"/>
<rect x="27" y="232" width="2.5" height="2.5" fill="#333" stroke="none"/>
<g stroke="#888" stroke-width="1.2" stroke-dasharray="0.7 1.1"><line x1="30" y1="213.8" x2="63.5" y2="213.8"/><line x1="30" y1="225.6" x2="63.5" y2="225.6"/><line x1="71" y1="213.8" x2="104" y2="213.8"/><line x1="71" y1="225.6" x2="104" y2="225.6"/><line x1="111" y1="213.8" x2="145" y2="213.8"/><line x1="111" y1="225.6" x2="145" y2="225.6"/><line x1="30" y1="236.3" x2="63.5" y2="236.3"/><line x1="30" y1="248.1" x2="63.5" y2="248.1"/><line x1="71" y1="236.3" x2="104" y2="236.3"/><line x1="71" y1="248.1" x2="104" y2="248.1"/><line x1="111" y1="236.3" x2="145" y2="236.3"/><line x1="111" y1="248.1" x2="145" y2="248.1"/></g>
<path d="M14 143 L17 141 L19 144 L22 142 M14 155 L17 153 L19 156 L22 154 M14 362 L17 360 L19 363 L22 361 M14 372 L17 370 L19 373 L22 371" stroke="#777" stroke-width="0.5" fill="none"/>
<path d="M128 14 L130 12 L131 16 L133 14 M146 13 L148 11 L149 15 L151 13 M133 18 L135 21 M149 17 L151 20" stroke="#777" stroke-width="0.5" fill="none"/>
<!-- parking stalls under admin -->
<g stroke="#555" stroke-width="0.8">
<line x1="29.4" y1="257" x2="29.4" y2="271"/><line x1="55" y1="257" x2="55" y2="271"/><line x1="71.5" y1="257" x2="71.5" y2="271"/>
<line x1="82.5" y1="257" x2="82.5" y2="271"/><line x1="91" y1="257" x2="91" y2="271"/><line x1="98.5" y1="257" x2="98.5" y2="271"/>
<line x1="109.7" y1="257" x2="109.7" y2="271"/><line x1="125" y1="257" x2="125" y2="271"/><line x1="141" y1="257" x2="141" y2="271"/>
<line x1="161.5" y1="257" x2="161.5" y2="271"/>
</g>
<g stroke="#ccc" stroke-width="0.6">
<line x1="50" y1="257" x2="50" y2="271"/><line x1="62" y1="257" x2="62" y2="271"/><line x1="118" y1="257" x2="118" y2="271"/><line x1="135" y1="257" x2="135" y2="271"/><line x1="152" y1="257" x2="152" y2="271"/>
</g>
<path d="M78 260 Q76 265 79 270 M86 260 Q88 265 85 270" stroke="#999" stroke-width="0.5"/>
<!-- B102 parking -->
<line x1="24" y1="290.3" x2="155" y2="290.3" stroke="#ddd" stroke-width="0.6" stroke-dasharray="22 14"/>
<g stroke-width="0.8">
<g stroke="#bbb"><line x1="24.3" y1="301.3" x2="46.6" y2="301.3"/><line x1="60.4" y1="301.3" x2="82.6" y2="301.3"/><line x1="96.3" y1="301.3" x2="118.8" y2="301.3"/><line x1="132.4" y1="301.3" x2="154.7" y2="301.3"/>
<line x1="24.3" y1="324.4" x2="46.6" y2="324.4"/><line x1="60.4" y1="324.4" x2="82.6" y2="324.4"/><line x1="96.3" y1="324.4" x2="118.8" y2="324.4"/><line x1="132.4" y1="324.4" x2="154.7" y2="324.4"/></g>
<g stroke="#555"><line x1="24.3" y1="307.2" x2="46.6" y2="307.2"/><line x1="60.4" y1="307.2" x2="82.6" y2="307.2"/><line x1="96.3" y1="307.2" x2="118.8" y2="307.2"/><line x1="132.4" y1="307.2" x2="154.7" y2="307.2"/>
<line x1="24.3" y1="330.2" x2="46.6" y2="330.2"/><line x1="60.4" y1="330.2" x2="82.6" y2="330.2"/><line x1="96.3" y1="330.2" x2="118.8" y2="330.2"/><line x1="132.4" y1="330.2" x2="154.7" y2="330.2"/></g>
</g>
<line x1="35.4" y1="290" x2="35.4" y2="335.6" stroke="#444" stroke-width="0.8"/>
<!-- U408 radio -->
<circle cx="171.5" cy="228" r="10" stroke="#666" stroke-width="0.6" stroke-dasharray="1.5 1"/>
<rect x="163" y="226" width="17" height="4" stroke="#333" stroke-width="0.7"/>
<line x1="183.3" y1="214" x2="183.3" y2="243" stroke="#777" stroke-width="0.7"/>
<!-- EV parking -->
<g stroke="#666" stroke-width="0.8"><line x1="177" y1="258" x2="177" y2="271"/><line x1="192.5" y1="258" x2="192.5" y2="271"/></g>
<line x1="182.5" y1="258" x2="182.5" y2="271" stroke="#ccc" stroke-width="0.6"/>
<g stroke="#777" stroke-width="0.8">
<line x1="171" y1="309.3" x2="191.5" y2="309.3"/><line x1="171" y1="314.5" x2="191.5" y2="314.5"/><line x1="171" y1="319.6" x2="191.5" y2="319.6"/><line x1="171" y1="325" x2="191.5" y2="325"/><line x1="171" y1="330.3" x2="191.5" y2="330.3"/></g>
<line x1="171" y1="304" x2="191.5" y2="304" stroke="#ccc" stroke-width="0.8"/>
<line x1="181" y1="290" x2="181" y2="334" stroke="#6c6" stroke-width="0.6" stroke-dasharray="0.8 4"/>
<!-- U115 sanitary -->
<path d="M106 533 L60.4 533 L60.4 573.2 L106 573.2" stroke="#444" stroke-width="0.8"/>
</g>
<g fill="none" stroke-linecap="butt">
<!-- racks in top block -->
<g stroke-width="0.8">
<line x1="313.5" y1="187.2" x2="313.5" y2="251.2" stroke="#999"/><line x1="318.2" y1="187.2" x2="318.2" y2="251.2" stroke="#888"/>
<line x1="327.3" y1="187.2" x2="327.3" y2="251.2" stroke="#333"/><line x1="332.6" y1="187.2" x2="332.6" y2="251.2" stroke="#aaa"/>
<line x1="313.5" y1="187.2" x2="332.6" y2="187.2" stroke="#bbb"/>
<line x1="313.5" y1="212.6" x2="332.6" y2="212.6" stroke="#777"/><line x1="313.5" y1="238.2" x2="332.6" y2="238.2" stroke="#777"/>
<rect x="368.5" y="186.4" width="19.5" height="63.9" stroke="#666"/>
<line x1="373" y1="186.4" x2="373" y2="250.3" stroke="#999"/><line x1="378.8" y1="186.4" x2="378.8" y2="250.3" stroke="#222" stroke-width="1"/><line x1="383.8" y1="186.4" x2="383.8" y2="250.3" stroke="#bbb"/>
<line x1="368.5" y1="212.6" x2="388" y2="212.6" stroke="#bbb"/><line x1="368.5" y1="224.3" x2="388" y2="224.3" stroke="#999"/>
</g>
<!-- C1 line -->
<line x1="290.6" y1="229" x2="290.6" y2="252" stroke="#666" stroke-width="0.7"/>
<rect x="289" y="219.5" width="3.5" height="7" stroke="#333" stroke-width="0.7"/>
<!-- P3 boric acid building -->
<rect x="282.2" y="252.5" width="12.3" height="44" stroke="#555" stroke-width="0.8"/>
<line x1="294.5" y1="252.5" x2="294.5" y2="350.5" stroke="#555" stroke-width="0.8"/>
<line x1="282.2" y1="282.5" x2="399" y2="282.5" stroke="#333" stroke-width="0.9"/>
<path d="M294.5 282.5 L329 296.6 M294.5 296.6 L329 282.5" stroke="#888" stroke-width="0.6"/>
<path d="M294.5 350.5 L323.5 350.5 L323.5 341 M311.5 350.5 L311.5 341" stroke="#555" stroke-width="0.7"/>
<path d="M311.3 282 L311.3 269 L324.5 269 L324.5 282" stroke="#aaa" stroke-width="0.6"/><path d="M317.5 269 L317.5 282 M315 269 L324.5 269" stroke="#444" stroke-width="0.8"/>
<g stroke="#444" stroke-width="5" stroke-dasharray="0.6 1.3">
<line x1="298.5" y1="308.8" x2="313.5" y2="308.8"/><line x1="319" y1="308.8" x2="364" y2="308.8"/><line x1="371" y1="308.8" x2="396" y2="308.8"/>
<line x1="298.5" y1="324" x2="313.5" y2="324"/><line x1="319" y1="324" x2="364" y2="324"/><line x1="371" y1="324" x2="396" y2="324"/>
<line x1="371" y1="288.8" x2="396" y2="288.8"/>
</g>
<g stroke="#777" stroke-width="0.6"><line x1="298.5" y1="306.5" x2="313.5" y2="306.5"/><line x1="319" y1="322" x2="396" y2="322"/><line x1="319" y1="326" x2="396" y2="326"/><line x1="371" y1="308.8" x2="396" y2="308.8"/></g>
<!-- small items by P3 building bottom -->
<rect x="337" y="339" width="16" height="10" stroke="#444" stroke-width="0.7"/>
<rect x="338.5" y="341.5" width="12" height="5" fill="#333" stroke="none"/>
<circle cx="364" cy="344" r="2" stroke="#777" stroke-width="0.5"/><circle cx="371" cy="344" r="2.5" stroke="#777" stroke-width="0.5"/>
<rect x="372" y="339" width="28" height="9" stroke="#bbb" stroke-width="0.5" stroke-dasharray="1 1"/>
<path d="M400 335 L402 335 L402 351 L400 351" stroke="#555" stroke-width="0.6"/>
<rect x="403.5" y="341" width="10" height="5" stroke="#555" stroke-width="0.6"/>
<path d="M367 349 L368 360 M370 349 L369 360" stroke="#999" stroke-width="0.5" stroke-dasharray="1 1"/>
<!-- small items on road near loadout -->
<rect x="337.3" y="160" width="11.7" height="4.5" fill="#222" stroke="none"/>
<g stroke="#111" stroke-width="0.9"><rect x="339.5" y="166.5" width="7.5" height="4"/><rect x="339.5" y="170.8" width="7.5" height="4"/><rect x="339.5" y="175.1" width="7.5" height="4"/><rect x="339.5" y="179.4" width="7.5" height="4.3"/></g><g fill="#333" stroke="none"><rect x="340.5" y="167.5" width="2" height="2"/><rect x="344" y="171.8" width="2" height="2"/><rect x="340.5" y="176" width="2.5" height="2"/><rect x="343.5" y="180.5" width="2.5" height="2"/></g>
<g stroke="#333" stroke-width="0.7"><path d="M335 153 L335 157 L343 157 M348 153 L348 157 M354 153 L354 157 M370 154 L380 154 M370 156 L378 156"/><circle cx="376" cy="155" r="2"/></g>
<!-- top symbols near 436 -->
<circle cx="435.6" cy="116.5" r="4.5" stroke="#555" stroke-width="0.6"/><circle cx="435.6" cy="116.5" r="2.5" stroke="#555" stroke-width="0.6"/>
<path d="M435 124 L435 128 M437 126 L445 126" stroke="#333" stroke-width="0.9"/>
<path d="M414 133 L414 137 M424 133 L428 133 M424 137 L428 137 M438 133 L453 133 M440 137 L453 137" stroke="#555" stroke-width="0.7"/>
<path d="M456 154 L459 154 M456 157 L459 157 M459 159 L513 159 M480 155 L484 155 L484 158 M487 155 L496 155 L496 158" stroke="#555" stroke-width="0.7"/>
<!-- racks in inner block -->
<g stroke-width="0.8">
<line x1="463.5" y1="183.7" x2="463.5" y2="285.3" stroke="#999"/><line x1="468.4" y1="183.7" x2="468.4" y2="285.3" stroke="#777"/><line x1="473.3" y1="183.7" x2="473.3" y2="285.3" stroke="#bbb"/>
<g stroke="#666"><line x1="454.5" y1="196.3" x2="473" y2="196.3" stroke="#aaa"/><line x1="454.5" y1="208.7" x2="473" y2="208.7" stroke="#ccc"/><line x1="454.5" y1="234.2" x2="473" y2="234.2"/><line x1="454.5" y1="247.4" x2="473" y2="247.4"/><line x1="454.5" y1="260" x2="473" y2="260"/><line x1="454.5" y1="285.3" x2="473" y2="285.3"/></g>
<line x1="503.5" y1="182.5" x2="503.5" y2="285.3" stroke="#999"/><line x1="508.5" y1="182.5" x2="508.5" y2="285.3" stroke="#666"/><line x1="513.5" y1="182.5" x2="513.5" y2="285.3" stroke="#aaa"/><line x1="518.3" y1="182.5" x2="518.3" y2="285.3" stroke="#666"/>
<g stroke="#666"><line x1="499" y1="195.5" x2="518" y2="195.5" stroke="#bbb"/><line x1="499" y1="233.4" x2="518" y2="233.4" stroke="#aaa"/><line x1="499" y1="246.4" x2="518" y2="246.4"/><line x1="499" y1="285.3" x2="518" y2="285.3"/></g>
<line x1="539.5" y1="183" x2="539.5" y2="285.3" stroke="#999"/><line x1="544.2" y1="183" x2="544.2" y2="285.3" stroke="#666"/><line x1="549" y1="183" x2="549" y2="285.3" stroke="#aaa"/><line x1="553.5" y1="183" x2="553.5" y2="285.3" stroke="#555"/>
<g stroke="#555"><line x1="534.6" y1="195.5" x2="553" y2="195.5"/><line x1="534.6" y1="221.4" x2="553" y2="221.4"/><line x1="534.6" y1="247" x2="553" y2="247"/><line x1="534.6" y1="259.5" x2="553" y2="259.5" stroke="#bbb"/><line x1="534.6" y1="285.3" x2="553" y2="285.3"/></g>
</g>
<!-- gypsum loadout -->
<path d="M494 302 L494 308 L508 308 M506 302 L506 308 M515 303 L515 307 M520 308 L530 308 M528 303 L535 303 L535 307" stroke="#444" stroke-width="0.7"/>
<path d="M518 311 L523 311 L523 318 Q524 324 520 324 Q516 322 518 316 Z" stroke="#666" stroke-width="0.6"/>
</g>
<g fill="none" stroke-linecap="butt">
<!-- U203 pipe rack vertical -->
<line x1="333.4" y1="359" x2="333.4" y2="746.7" stroke="#333" stroke-width="0.9"/>
<line x1="341.6" y1="359.5" x2="341.6" y2="746.7" stroke="#444" stroke-width="0.9"/>
<line x1="339.2" y1="359.5" x2="339.2" y2="419" stroke="#444" stroke-width="0.8"/>
<!-- top of rack: frame -->
<path d="M326 359.4 L359 359.4 M339.2 369 L370 369 M339.2 386.8 L360 386.8" stroke="#333" stroke-width="0.8"/>
<path d="M330 361 L335 361 L335 420 L330 420 Z" stroke="#333" stroke-width="0.8"/>
<g fill="#222" stroke="none"><rect x="330.5" y="375" width="4" height="3"/><rect x="330.5" y="394" width="4" height="3"/><rect x="330.5" y="405" width="4" height="3"/><circle cx="333.5" cy="410" r="3.5"/><rect x="330" y="428" width="6" height="2"/><rect x="330" y="436" width="6" height="2"/></g>
<path d="M343 374 L350 374 L350 378 M352 374 L357 374 M343 380 L349 380 M344 392 L350 392 M345 402 L352 402 M345 406 L356 406" stroke="#333" stroke-width="0.7"/>
<g stroke="#444" stroke-width="0.6"><rect x="345" y="385" width="4" height="4"/><rect x="351" y="388" width="4" height="4"/><rect x="345" y="398" width="5" height="3"/><rect x="353" y="396" width="5" height="3"/></g>
<path d="M356 356 L359 356 L359 362 M360 362 L362 364" stroke="#444" stroke-width="0.7"/>
<rect x="360" y="364" width="6" height="3.5" fill="#333" stroke="none"/>
<path d="M361 371 L366 371 M361 374 L366 374" stroke="#333" stroke-width="0.7"/>
<!-- P3 equipment box -->
<rect x="302" y="387" width="25.4" height="76.5" stroke="#888" stroke-width="0.6" stroke-dasharray="1 0.8"/>
<line x1="300" y1="387" x2="327" y2="387" stroke="#333" stroke-width="0.9"/>
<path d="M302 416 L327 416 M302 435.7 L327 435.7 M302 448.5 L327 448.5" stroke="#777" stroke-width="0.6"/>
<g stroke="#777" stroke-width="0.6" stroke-dasharray="1 0.7">
<circle cx="307.5" cy="395" r="4"/><circle cx="320" cy="395" r="4.5"/><circle cx="307.5" cy="409" r="4"/><circle cx="320" cy="409" r="5"/>
<circle cx="307.5" cy="441.5" r="4"/><circle cx="320" cy="443" r="4"/><circle cx="307.5" cy="456" r="4"/><circle cx="320" cy="456" r="5"/></g>
<g fill="#333" stroke="none">
<rect x="305" y="393.5" width="5" height="1.5"/><rect x="317" y="393.5" width="6" height="1.5"/><rect x="305" y="408" width="5" height="1.5"/><rect x="317" y="408.5" width="6" height="1.5"/>
<rect x="305" y="440.5" width="5" height="1.5"/><rect x="317" y="442" width="6" height="1.5"/><rect x="305" y="455" width="5" height="1.5"/><rect x="317" y="455.5" width="6" height="1.5"/>
<rect x="293" y="395" width="6" height="2.2"/><rect x="294" y="444.5" width="5" height="2"/><rect x="292" y="432" width="7" height="2"/>
<rect x="323" y="397" width="4" height="2"/><rect x="323" y="446" width="4" height="2"/><rect x="316" y="385" width="7" height="2.5"/>
</g>
<path d="M302 399 L302 403 M302 428 L302 432 M302 460 L302 463" stroke="#222" stroke-width="1.2"/>
<rect x="305" y="419" width="17" height="3.5" fill="#333" stroke="none"/>
<rect x="305" y="424" width="17" height="1.5" fill="#555" stroke="none"/>
<g stroke="#333" stroke-width="0.7"><path d="M293 396 L299 396 M293 398 L298 398 M295 419 L299 419 M293 429 L300 429 M293 432 L300 432 M296 444 L300 444 M295 451 L295 462 L299 462 L299 451 M322 386 L327 384 M324 466 L332 466"/></g>
<rect x="322" y="412" width="8" height="5" fill="#333" stroke="none"/>
<rect x="322" y="428" width="8" height="5" fill="#333" stroke="none"/>
<rect x="325" y="464" width="7" height="2.5" fill="#222" stroke="none"/>
<!-- big tank -->
<path d="M313.5 470.5 L323.5 470.5 L330 477 L330 487.5 L323.5 494 L313.5 494 L307 487.5 L307 477 Z" stroke="#777" stroke-width="0.6" stroke-dasharray="1.2 0.8"/>
<path d="M313 482.2 L324 482.2" stroke="#333" stroke-width="0.8"/>
<path d="M298 478 L298 487 L301 487 M303 480 L303 486" stroke="#444" stroke-width="0.7"/>
<line x1="300" y1="497.2" x2="333" y2="497.2" stroke="#333" stroke-width="0.8"/>
<!-- boxes after tank near rack -->
<path d="M324.5 497.5 L324.5 505 L333 505" stroke="#ccc" stroke-width="0.6"/>
<path d="M327 503 L331 503" stroke="#333" stroke-width="0.8"/>
<!-- cooling tower cells -->
<rect x="295.2" y="508.5" width="31.8" height="94.7" stroke="#999" stroke-width="0.6"/>
<g stroke="#444" stroke-width="1.6" stroke-dasharray="0.9 0.7"><line x1="296" y1="511.5" x2="326" y2="511.5"/><line x1="296" y1="517.5" x2="326" y2="517.5"/><line x1="296" y1="523.3" x2="326" y2="523.3"/><line x1="296" y1="529.3" x2="326" y2="529.3"/><line x1="296" y1="535.2" x2="326" y2="535.2"/><line x1="296" y1="541.2" x2="326" y2="541.2"/><line x1="296" y1="547.0" x2="326" y2="547.0"/><line x1="296" y1="553.0" x2="326" y2="553.0"/><line x1="296" y1="558.9" x2="326" y2="558.9"/><line x1="296" y1="564.9" x2="326" y2="564.9"/><line x1="296" y1="570.7" x2="326" y2="570.7"/><line x1="296" y1="576.7" x2="326" y2="576.7"/><line x1="296" y1="582.5" x2="326" y2="582.5"/><line x1="296" y1="588.5" x2="326" y2="588.5"/><line x1="296" y1="594.4" x2="326" y2="594.4"/><line x1="296" y1="600.4" x2="326" y2="600.4"/></g>
<g stroke="#999" stroke-width="1.4" stroke-dasharray="0.7 1.2"><line x1="296" y1="514.5" x2="326" y2="514.5"/><line x1="296" y1="526.3" x2="326" y2="526.3"/><line x1="296" y1="538.2" x2="326" y2="538.2"/><line x1="296" y1="550.0" x2="326" y2="550.0"/><line x1="296" y1="561.9" x2="326" y2="561.9"/><line x1="296" y1="573.7" x2="326" y2="573.7"/><line x1="296" y1="585.5" x2="326" y2="585.5"/><line x1="296" y1="597.4" x2="326" y2="597.4"/></g>
<g stroke="#222" stroke-width="0.8"><line x1="295.2" y1="520.3" x2="327" y2="520.3"/><line x1="295.2" y1="532.2" x2="327" y2="532.2"/><line x1="295.2" y1="544.0" x2="327" y2="544.0"/><line x1="295.2" y1="555.9" x2="327" y2="555.9"/><line x1="295.2" y1="567.7" x2="327" y2="567.7"/><line x1="295.2" y1="579.5" x2="327" y2="579.5"/><line x1="295.2" y1="591.4" x2="327" y2="591.4"/></g>
<g stroke="#333" stroke-width="0.8">
<path d="M296 519.5 L327 519.5 M296 531 L327 531 M296 542.5 L327 542.5 M296 554 L327 554 M296 565.5 L327 565.5 M296 577 L327 577 M296 588.5 L327 588.5" stroke="#666" stroke-width="0.5"/>
<path d="M327 512 L332 512 M327 523 L332 523 M327 534.5 L332 534.5 M327 546 L332 546 M327 557.5 L332 557.5 M327 569 L332 569 M327 580.5 L332 580.5 M327 592 L332 592"/>
<path d="M329 513 L329 520 L332 520 M329 524 L329 531 L332 531 M329 535.5 L329 542.5 L332 542.5 M329 547 L329 554 L332 554 M329 558.5 L329 565.5 L332 565.5 M329 570 L329 577 L332 577 M329 581.5 L329 588.5 L332 588.5 M329 593 L329 600 L332 600" stroke-width="0.6"/>
</g>
<!-- U300 e-house -->
<rect x="287.7" y="608.7" width="29.5" height="16.3" stroke="#333" stroke-width="0.8"/>
<rect x="320" y="608" width="12" height="17.5" stroke="#555" stroke-width="0.7"/>
<path d="M320 614 L332 614 M320 620 L332 620" stroke="#888" stroke-width="0.5"/>
<path d="M285 616 L272 616 L272 625 L285 625 M283 616 L283 625" stroke="#666" stroke-width="0.6"/>
<g stroke="#555" stroke-width="0.7"><line x1="289" y1="630" x2="289" y2="636"/><line x1="306" y1="630" x2="306" y2="636"/><line x1="316" y1="630" x2="316" y2="636"/><line x1="324" y1="630" x2="324" y2="636"/></g>
<line x1="273" y1="638.5" x2="329" y2="638.5" stroke="#444" stroke-width="0.8"/>
<path d="M309 639 L329 639 L329 660 L309 660 Z" stroke="#aaa" stroke-width="0.6"/>
<path d="M317 643 L326 643 L326 658" stroke="#666" stroke-width="0.6"/>
<!-- U202 horizontal rack -->
<line x1="345.7" y1="492.4" x2="524.9" y2="492.4" stroke="#444" stroke-width="1"/>
<path d="M413 490 L443 490 M413 495.5 L445 495.5" stroke="#aaa" stroke-width="0.6"/>
<path d="M414 489.5 L443 495.5 M414 495.5 L443 489.5" stroke="#bbb" stroke-width="0.5"/>
<path d="M330 490 L345 495.5 M330 495.5 L345 490" stroke="#bbb" stroke-width="0.5"/>
<!-- storage building lines -->
<line x1="371.6" y1="425.5" x2="371.6" y2="488.7" stroke="#555" stroke-width="0.8"/>
<line x1="371.6" y1="438.4" x2="400" y2="438.4" stroke="#555" stroke-width="0.8"/>
<line x1="348.4" y1="457.7" x2="371.6" y2="457.7" stroke="#666" stroke-width="0.7"/>
<!-- U1 utilities equipment -->
<g stroke="#777" stroke-width="0.6" stroke-dasharray="1.2 0.8">
<circle cx="355" cy="513" r="9"/><circle cx="392" cy="514" r="9"/><circle cx="351" cy="562.5" r="6.5"/><circle cx="370" cy="534" r="4.5"/><circle cx="370" cy="580" r="4"/><circle cx="369.5" cy="598" r="4.5"/><circle cx="391" cy="598" r="7"/></g>
<g fill="#333" stroke="none"><rect x="353" y="512" width="5" height="1.2"/><path d="M389.5 512 L394.5 512 L392 516 Z"/><rect x="348" y="562" width="6" height="2"/></g>
<path d="M366 511 L371 511 M366 515 L371 515 M376 511 L381 511 M376 515 L381 515" stroke="#444" stroke-width="0.8"/>
<path d="M346 527 L363 527 M346 545 L363 545 M346 547 L363 547 M346 555 L363 555 L363 547 M346 575 L363 575 L363 605 L346 605" stroke="#999" stroke-width="0.6"/>
<path d="M350 533 L359 533 M353 580 L360 580 M351 598 L359 598" stroke="#222" stroke-width="1.2"/>
<rect x="352" y="547" width="5" height="4" fill="#444" stroke="none"/>
<path d="M375 532 L380 532 M375 536 L379 536 M373 549 L379 549 M373 553 L379 553 M376 561 L379 561 M376 565 L379 565 M378 596 L383 596 M378 599 L383 599" stroke="#555" stroke-width="0.6"/>
<path d="M401.7 591 L408 591 L408 607 L401.7 607 Z" stroke="#555" stroke-width="0.6"/>
<rect x="402.5" y="597" width="3" height="3" fill="#444" stroke="none"/>
<circle cx="351" cy="612" r="1.8" stroke="#555" stroke-width="0.5"/>
<g fill="#333" stroke="none"><rect x="358" y="608" width="2" height="5"/><rect x="370" y="608" width="2.5" height="6"/><rect x="381" y="609" width="2" height="4"/><rect x="362" y="617" width="6" height="2"/></g>
<path d="M346 620 L346 628 M346 623 L348 623 M352 620 L352 626 L360 623 M364 624 L368 623 L369 628 L371 628 L371 622 M374 622 L376 625 M388 610 L388 618" stroke="#555" stroke-width="0.6"/>
</g>
<g fill="none" stroke-linecap="butt">
<!-- U201 rack -->
<line x1="524.9" y1="416" x2="524.9" y2="611" stroke="#444" stroke-width="0.9"/>
<path d="M535.5 416.6 L535.5 715.4 L562.2 715.4" stroke="#444" stroke-width="0.9"/>
<line x1="535.5" y1="416.6" x2="562" y2="416.6" stroke="#888" stroke-width="0.7"/>
<!-- gypsum circuit equipment near 510-535, 410-490 -->
<path d="M507 410 L507 488 L524 488 L524 410" stroke="#ccc" stroke-width="0.6"/>
<path d="M509 418 L509 440 M512 418 L512 440" stroke="#333" stroke-width="0.8"/>
<g stroke="#555" stroke-width="0.6"><rect x="510" y="420" width="6" height="3"/><rect x="510" y="425" width="6" height="3"/><rect x="510" y="430" width="6" height="3"/><rect x="510" y="435" width="6" height="3"/></g>
<circle cx="516.5" cy="431" r="4" stroke="#777" stroke-width="0.5" stroke-dasharray="1 0.7"/>
<path d="M510 411 L516 411 L518 414 M499 422 L506 422 M499 435 L506 435 M503 437 L506 437 L506 441 M499 452 L506 452 L506 458" stroke="#333" stroke-width="0.7"/>
<g stroke="#777" stroke-width="0.6" stroke-dasharray="1 0.7"><circle cx="515" cy="460" r="4.5"/><circle cx="515" cy="477" r="4"/><circle cx="510" cy="444" r="2"/></g>
<path d="M500 455 L506 455 M498 458 L506 458 M500 468 L506 468 L506 478 M508 478 L515 478" stroke="#444" stroke-width="0.7"/>
<rect x="500" y="462" width="6" height="5" fill="#222" stroke="none"/>
<rect x="505" y="454" width="2.5" height="13" fill="#333" stroke="none"/>
<rect x="519" y="462" width="4" height="8" stroke="#555" stroke-width="0.6"/>
<!-- P6 gypsum equipment (right of rack) -->
<circle cx="547" cy="433" r="15" stroke="#999" stroke-width="0.5" stroke-dasharray="1.5 1"/>
<circle cx="543" cy="422" r="4" stroke="#777" stroke-width="0.5" stroke-dasharray="1 0.7"/>
<path d="M544 435 L552 435 L552 445 M545 440 L549 440 M556 436 L558 436 M556 440 L558 440" stroke="#333" stroke-width="0.8"/>
<circle cx="556" cy="443" r="2.5" stroke="#333" stroke-width="0.8"/>
<path d="M549 449 L554 449 M548 451 L556 451 M550 447 L552 444" stroke="#444" stroke-width="0.6"/>
<!-- reagents column -->
<g stroke="#777" stroke-width="0.6" stroke-dasharray="1.2 0.8">
<circle cx="549" cy="465" r="7"/><circle cx="549" cy="481" r="7"/><circle cx="549.5" cy="523.5" r="8"/><circle cx="549" cy="547" r="7.5"/><circle cx="549" cy="564" r="6"/><circle cx="545.5" cy="596" r="8.5"/><circle cx="547.5" cy="612" r="4"/></g>
<circle cx="566" cy="566" r="15" stroke="#999" stroke-width="0.5" stroke-dasharray="1.5 1.5"/>
<g fill="#333" stroke="none"><rect x="546" y="464" width="6" height="1.5"/><rect x="546" y="480" width="6" height="1.5"/><rect x="546" y="523" width="7" height="1.5"/><rect x="546" y="546" width="6" height="1.5"/><rect x="546" y="562" width="6" height="1.5"/><rect x="542" y="595" width="6" height="1.5"/>
<rect x="538" y="469" width="3" height="3"/><rect x="538" y="475" width="3" height="3"/><rect x="538" y="478" width="3" height="3"/>
<rect x="543" y="501" width="4" height="4"/><rect x="553" y="502" width="3" height="4"/><rect x="540" y="537" width="3" height="5"/>
<rect x="550" y="567" width="2.5" height="5"/><rect x="554" y="570" width="3" height="3"/><rect x="556" y="575" width="2.5" height="2.5"/>
<rect x="554" y="605" width="3" height="5"/><rect x="556" y="591" width="2.5" height="4"/></g>
<circle cx="550.5" cy="578.5" r="2.5" stroke="#333" stroke-width="0.8"/>
<path d="M553 566 L556 566 L556 573 M548 596 L553 604 L556 603" stroke="#333" stroke-width="0.8"/>
<path d="M560 458 L565 458 M560 460 L565 460 M560 515 L565 515 M560 517 L565 517" stroke="#222" stroke-width="0.9"/>
<rect x="561" y="467" width="13" height="19" stroke="#444" stroke-width="0.8"/>
<rect x="561" y="524" width="13" height="19" stroke="#444" stroke-width="0.8"/>
<rect x="561" y="603" width="13" height="18.5" stroke="#222" stroke-width="0.9"/>
<path d="M566 470 L566 484 M566 527 L566 541 M566 606 L566 619" stroke="#888" stroke-width="0.5"/>
<path d="M536 562 L562 562" stroke="#ccc" stroke-width="0.5"/>
<path d="M575 450 L577 453 L579 450" stroke="#999" stroke-width="0.5"/>
<path d="M583 569 L585 566 L587 569 M585 566 L585 575" stroke="#999" stroke-width="0.5"/>
<!-- U303 e-house -->
<rect x="457.3" y="505.2" width="38.5" height="29.9" stroke="#333" stroke-width="0.9"/>
<path d="M452 518 L457 518 M450 520 L455 520" stroke="#444" stroke-width="0.7"/>
<path d="M495.8 513 L499 513 L499 521 L495.8 521" stroke="#555" stroke-width="0.6"/>
<g stroke="#555" stroke-width="0.6"><rect x="460.5" y="540" width="7" height="13"/><rect x="469.5" y="540" width="7" height="13"/><rect x="478.5" y="540" width="7" height="13"/><rect x="487.5" y="540" width="7" height="13"/></g>
<path d="M460 539 L495 539" stroke="#333" stroke-width="0.7"/>
<rect x="476" y="536" width="4" height="2" fill="#333" stroke="none"/>
<path d="M501 505 L525 505 M501 505 L501 531" stroke="#999" stroke-width="0.6"/>
<path d="M509 507 L517 507 L523 513 L523 521 L517 527 L509 527 L503 521 L503 513 Z" stroke="#777" stroke-width="0.6" stroke-dasharray="1.2 0.8"/>
<rect x="511" y="516" width="4" height="2" fill="#333" stroke="none"/>
<path d="M509 563 L518 563 L523 568 L523 577 L518 582 L509 582 L504 577 L504 568 Z" stroke="#777" stroke-width="0.6" stroke-dasharray="1.2 0.8"/>
<rect x="512" y="571" width="3" height="2" fill="#333" stroke="none"/>
<path d="M509 537 L515 537 M509 542 L509 548 L516 548 M518 540 L521 540 M518 543 L521 543" stroke="#333" stroke-width="0.7"/>
<circle cx="519" cy="548" r="3" stroke="#222" stroke-width="0.9"/>
<path d="M505 553 L510 553 L510 557 M518 553 L518 556 M521 553 L521 556" stroke="#333" stroke-width="0.8"/>
<path d="M510 583 L517 583 M511 586 L511 590 M516 586 L516 590" stroke="#444" stroke-width="0.7"/>
<!-- P4 impurity area -->
<line x1="477" y1="593.4" x2="524.1" y2="593.4" stroke="#444" stroke-width="0.8"/>
<path d="M477 593.4 L481 591.5 L485 593.4 L481 595.3 Z" fill="#222" stroke="none"/>
<path d="M486 593.4 L490 592 L490 594.8 Z" fill="#222" stroke="none"/>
<g stroke="#777" stroke-width="0.6" stroke-dasharray="1 0.7"><circle cx="484.8" cy="600.5" r="4"/><circle cx="500" cy="600" r="5"/><circle cx="519.3" cy="598" r="4"/></g>
<path d="M489 600.5 L494 600.5" stroke="#333" stroke-width="0.8"/>
<rect x="505.6" y="604.5" width="9.4" height="5.7" stroke="#333" stroke-width="0.8"/>
<rect x="507.5" y="596" width="5" height="5" stroke="#333" stroke-width="0.8"/>
<rect x="509" y="605" width="4" height="5" fill="#444" stroke="none"/>
<path d="M517 596 L522 596 M517 598 L522 598" stroke="#222" stroke-width="0.8"/>
<path d="M500 596 L500 603 M498 604 L502 604" stroke="#333" stroke-width="0.7"/>
<line x1="512.9" y1="609.8" x2="524.1" y2="609.8" stroke="#555" stroke-width="0.7"/>
<g stroke="#222" stroke-width="0.8">
<path d="M485 615.2 L499 615.2 M485 619.5 L499 619.5 M485 615.2 L485 619.5 M499 615.2 L499 619.5 M488 615.2 L488 619.5"/>
<path d="M485 629.5 L499 629.5 M485 633.5 L499 633.5 M485 629.5 L485 633.5 M499 629.5 L499 633.5 M488 629.5 L488 633.5"/>
<path d="M485 642.6 L499 642.6 M485 647.5 L499 647.5 M485 642.6 L485 647.5 M499 642.6 L499 647.5 M488 642.6 L488 647.5"/>
</g>
<rect x="485.5" y="615.5" width="3" height="4" fill="#333" stroke="none"/>
<rect x="485.5" y="629.8" width="3" height="3.5" fill="#333" stroke="none"/>
<rect x="485.5" y="643" width="3" height="4.2" fill="#333" stroke="none"/>
<path d="M478 610 L486 610 M479 613 L484 613 M482 617 L484 617 M478 624 L486 624 M479 627 L484 627 M482 631 L484 631 M480 637 L486 637 M476 644 L482 643 M478 646 L484 646" stroke="#555" stroke-width="0.6"/>
<path d="M504 613 L509 613 M503 616 L510 616 M502 619 L508 619 M503 623 L510 623 M503 626 L508 626 M503 631 L508 631 M503 634 L508 634 M503 638 L510 638 M503 642 L509 642 M503 646 L508 646" stroke="#444" stroke-width="0.6"/>
<rect x="505" y="618" width="4" height="2.5" fill="#222" stroke="none"/>
<rect x="504" y="639" width="5" height="3" fill="#222" stroke="none"/>
<path d="M476 637 L492 637" stroke="#ccc" stroke-width="1.2"/>
<rect x="512.9" y="609.8" width="10.2" height="41.3" stroke="#444" stroke-width="0.7"/>
<line x1="523.1" y1="609.8" x2="523.1" y2="651.1" stroke="#111" stroke-width="1"/>
<path d="M513.5 611 L522.5 650 M522.5 611 L513.5 650" stroke="#888" stroke-width="0.5" stroke-dasharray="1.2 1"/>
<path d="M511.6 651.5 L523.5 651.5 L523.5 698.4 L511.6 698.4 Z" stroke="#888" stroke-width="0.6"/>
<path d="M512 652 L523 698 M523 652 L512 698" stroke="#888" stroke-width="0.5" stroke-dasharray="1.2 1"/>
<path d="M454 641 Q453 638 456 637 Q459 638 458 641 L458 652 L454 652 Z M454 645 L458 645 M455 652 L455 655 L458 655" stroke="#777" stroke-width="0.6"/>
<path d="M450 660 L462 660 L462 670 L450 670 Z M450 664 L462 664" stroke="#888" stroke-width="0.6"/>
<line x1="477" y1="651.1" x2="512.9" y2="651.1" stroke="#444" stroke-width="0.8"/>
<!-- P2 building -->
<path d="M477 651.1 L477 750.3 L509.4 750.3 L509.4 651.1" stroke="#555" stroke-width="0.7"/>
<line x1="476.4" y1="708" x2="509.4" y2="708" stroke="#999" stroke-width="0.5"/>
<g stroke="#777" stroke-width="0.5"><path d="M477 718 L485 709 M477 727 L493 709 M477 736 L501 709 M477 745 L508 710 M482 750 L509 719 M490 750 L509 728 M498 750 L509 737 M506 750 L509 746"/></g>
<circle cx="488" cy="695.4" r="11" stroke="#777" stroke-width="0.6" stroke-dasharray="1.2 0.8"/>
<circle cx="496.7" cy="675.4" r="8.5" stroke="#777" stroke-width="0.6" stroke-dasharray="1.2 0.8"/>
<circle cx="482.5" cy="664.5" r="6" stroke="#777" stroke-width="0.5" stroke-dasharray="1 0.7"/>
<path d="M467 663 L478 663 L478 667 L467 667 Z" stroke="#444" stroke-width="0.7"/>
<path d="M476 658 L479 658 L480 665 M477 695 L477 700 M478 690 L478 698" stroke="#222" stroke-width="1"/>
<path d="M485 695.4 L490 695.4 M494 675.4 L499 675.4 M498 693 L504 693 M500 698 L505 698 M483 652 L488 652 M494 652 L500 652 M498 657 L503 657 L503 660" stroke="#333" stroke-width="0.7"/>
<!-- warehouse access / rack -->
<path d="M528 660 L533 660 M528 668 L533 668 M528 687 L533 687 M528 706 L533 706 M528 713 L533 713 M528 725 L533 725 M528 732 L533 732 M528 738 L533 738" stroke="#555" stroke-width="0.8"/>
<line x1="540" y1="622.3" x2="561" y2="622.3" stroke="#aaa" stroke-width="0.6"/>
<circle cx="554" cy="635" r="4" stroke="#555" stroke-width="0.5"/>
<path d="M542 633 L546 633 M543 636 L545 636 M544 654 L550 654 M543 660 L543 666 L549 666 M543 678 L543 685 L549 685 M542 686 L550 686 M543 690 L543 696 L550 696" stroke="#444" stroke-width="0.7"/>
<circle cx="544.5" cy="698" r="2.5" stroke="#555" stroke-width="0.5"/>
<rect x="543" y="653" width="6" height="2" fill="#222" stroke="none"/>
<path d="M561.9 620 L574 620 L574 622" stroke="#333" stroke-width="1.1"/>
<path d="M526 740 L534 787 M534 740 L526 787" stroke="#888" stroke-width="0.5" stroke-dasharray="1.5 1"/>
<path d="M527.5 794 L533 794 M527.5 813 L533 813 M527.5 819.5 L533 819.5 M527.5 832 L533 832 M527.5 838.4 L533 838.4 M527.5 857.5 L533 857.5 M527.5 864.4 L533 864.4" stroke="#555" stroke-width="0.8"/>
<path d="M538 786.5 L557 786.5" stroke="#999" stroke-width="0.5"/>
<!-- dashed outer curve right of P2 -->



<path d="M449 733 Q451 745 455 750" stroke="#999" stroke-width="0.5" stroke-dasharray="1.5 1"/>
</g>
<g fill="none" stroke-linecap="butt">
<line x1="328.9" y1="640" x2="328.9" y2="660" stroke="#333" stroke-width="0.9"/>
<!-- motor -->
<path d="M350 686 L360 686 L365 691 L365 698 L360 703 L350 703 L346 698 L346 691 Z" stroke="#555" stroke-width="0.7"/>
<path d="M346 694.5 L368 694.5 M355 686 L355 703" stroke="#999" stroke-width="0.4"/>
<rect x="364" y="688" width="2.8" height="13" fill="#222" stroke="none"/>
<circle cx="362" cy="681.5" r="1.2" fill="#222" stroke="none"/>
<g fill="#333" stroke="none"><rect x="346" y="689" width="2" height="2"/><rect x="346" y="693" width="2" height="2"/><rect x="346" y="697" width="2" height="2"/></g>
<path d="M340 690 L345 690 L345 699 L340 699 M333 689 L337 689 L337 701 L333 701" stroke="#333" stroke-width="0.8"/>
<rect x="333" y="690" width="1.8" height="10" fill="#333" stroke="none"/>
<!-- dense cluster -->
<rect x="311" y="689" width="22" height="50" stroke="#333" stroke-width="0.8"/>
<path d="M316 690 L321 690 M313 693 L318 689 L322 692" stroke="#222" stroke-width="0.9"/>
<rect x="318" y="690" width="8" height="8" fill="#555" stroke="none"/>
<rect x="322" y="692" width="3" height="6" fill="#222" stroke="none"/>
<rect x="332.5" y="690" width="1.8" height="8.5" fill="#222" stroke="none"/>
<rect x="337.8" y="690" width="1.8" height="8.5" fill="#222" stroke="none"/>
<rect x="313" y="699" width="18" height="3" stroke="#333" stroke-width="0.6"/>
<rect x="321" y="700" width="12" height="7" fill="#111" stroke="none"/>
<rect x="313" y="705" width="5" height="3" fill="#111" stroke="none"/>
<rect x="339" y="700" width="3" height="8" fill="#111" stroke="none"/>
<line x1="333" y1="708" x2="341" y2="708" stroke="#222" stroke-width="0.8"/>
<rect x="312" y="711.5" width="8.5" height="12.5" stroke="#111" stroke-width="1.3"/>
<path d="M313 714.5 L330 714.5 M313 717 L330 717 M313 719.5 L330 719.5" stroke="#333" stroke-width="0.7"/>
<rect x="319" y="716" width="11" height="6" fill="#222" stroke="none"/>
<rect x="323" y="711" width="5" height="2.5" fill="#111" stroke="none"/>
<rect x="314" y="722" width="4" height="2.5" fill="#111" stroke="none"/>
<rect x="326" y="722" width="5" height="2.5" fill="#111" stroke="none"/>
<rect x="311" y="725" width="31" height="13" stroke="#222" stroke-width="0.9"/>
<path d="M314 725 L314 738 M317 725 L317 738 M322 725 L322 738 M328 725 L328 738 M333 725 L333 738 M311 728.5 L342 728.5 M311 731.5 L342 731.5 M311 734.5 L342 734.5" stroke="#444" stroke-width="0.6"/>
<rect x="322" y="729" width="6" height="2.5" fill="#fff" stroke="none"/>
<rect x="312" y="735" width="3" height="3" fill="#111" stroke="none"/>
<rect x="318" y="736" width="12" height="2.5" fill="#333" stroke="none"/>
<line x1="295" y1="739.9" x2="333" y2="739.9" stroke="#111" stroke-width="0.9"/>
<path d="M320 740 L322 752 M316 744 L327 749 M317 749 L326 742 M321 744 L318 752" stroke="#444" stroke-width="0.6"/>
<!-- left pieces -->
<rect x="300.9" y="690.8" width="12.2" height="10.9" stroke="#777" stroke-width="0.6" stroke-dasharray="1 0.8"/>
<path d="M286.7 694 L286.7 715.9 L308 715.9" stroke="#888" stroke-width="0.6"/>
<path d="M282 694 L282 716 M284 694 L284 716" stroke="#aaa" stroke-width="0.4" stroke-dasharray="0.8 1"/>
<rect x="301" y="711" width="7" height="5" stroke="#555" stroke-width="0.6"/>
<path d="M281 717 L310 717 M281 720 L310 720" stroke="#ccc" stroke-width="0.5"/>
<circle cx="278.4" cy="731.3" r="5.5" stroke="#555" stroke-width="0.7" stroke-dasharray="1.2 0.6"/>
<path d="M285 726 L285 737 M287 726 L287 737 M290 727 L292 727 L292 736 L290 736 Z" stroke="#444" stroke-width="0.6"/>
<rect x="296" y="726" width="11" height="10" stroke="#444" stroke-width="0.7"/>
<rect x="299" y="728" width="5" height="6" stroke="#444" stroke-width="0.6"/>
<path d="M307 726 L310 726 M307 736 L310 736" stroke="#444" stroke-width="0.6"/>
<rect x="287.4" y="740.3" width="45.6" height="6.4" stroke="#444" stroke-width="0.7"/>
<path d="M297 737 L297 740.3" stroke="#444" stroke-width="0.7"/>
<!-- U321 right box -->
<path d="M357.5 736.5 L357.5 747.4 L382.5 747.4 M357.5 736.5 L382.5 736.5" stroke="#444" stroke-width="0.7"/>
<line x1="357.5" y1="747.4" x2="382.5" y2="747.4" stroke="#222" stroke-width="0.9"/>
<circle cx="364.5" cy="742" r="3.2" stroke="#444" stroke-width="0.6"/><circle cx="376" cy="742" r="3.2" stroke="#444" stroke-width="0.6"/>
<path d="M363 742 L366 742 M364.5 740.5 L364.5 743.5" stroke="#333" stroke-width="0.8"/>
<path d="M348 740 L348 745 M351.5 740 L351.5 745 M350 739 L350 741" stroke="#555" stroke-width="0.6"/>
<!-- rack right boxes above motor -->
<rect x="344" y="641.3" width="34.7" height="10.9" stroke="#555" stroke-width="0.6"/>
<rect x="342.3" y="667.3" width="41.3" height="9" stroke="#444" stroke-width="0.7"/>
<path d="M344 669 L347 669 L347 675 L344 675 M378 669 L381 676 M350 668.5 L376 668.5" stroke="#666" stroke-width="0.5"/>
<rect x="350.5" y="658" width="26.5" height="6.5" rx="1" stroke="#444" stroke-width="0.6"/>
<path d="M376 659 L376 664" stroke="#222" stroke-width="0.9"/>
<path d="M345 679 L347 678 L348 680 M377 678 L380 680" stroke="#999" stroke-width="0.5"/>
</g>
<g font-family="Liberation Sans, sans-serif">
<text x="182" y="39.5" text-anchor="middle" font-size="4.5" font-weight="normal" fill="#000" stroke="#000" stroke-width="0.18" textLength="8" lengthAdjust="spacingAndGlyphs">B107</text>
<text x="182" y="44" text-anchor="middle" font-size="4.5" font-weight="normal" fill="#000" stroke="#000" stroke-width="0.18" textLength="53" lengthAdjust="spacingAndGlyphs">WAREHOUSE/MAINTENANCE</text>
<text x="182" y="48.5" text-anchor="middle" font-size="4.5" font-weight="normal" fill="#000" stroke="#000" stroke-width="0.18" textLength="28" lengthAdjust="spacingAndGlyphs">BLDG 120'x110'</text>
<text x="282" y="51" text-anchor="middle" font-size="4.5" font-weight="normal" fill="#000" stroke="#000" stroke-width="0.18" textLength="8" lengthAdjust="spacingAndGlyphs">B108</text>
<text x="282" y="55.5" text-anchor="middle" font-size="4.5" font-weight="normal" fill="#000" stroke="#000" stroke-width="0.18" textLength="22" lengthAdjust="spacingAndGlyphs">WAREHOUSE</text>
<text x="282" y="60" text-anchor="middle" font-size="4.5" font-weight="normal" fill="#000" stroke="#000" stroke-width="0.18" textLength="27.5" lengthAdjust="spacingAndGlyphs">FENCED AREA</text>
<text x="93" y="201" text-anchor="middle" font-size="4.5" font-weight="normal" fill="#000" stroke="#000" stroke-width="0.18" textLength="8" lengthAdjust="spacingAndGlyphs">B101</text>
<text x="93" y="206.3" text-anchor="middle" font-size="4.5" font-weight="normal" fill="#000" stroke="#000" stroke-width="0.18" textLength="54" lengthAdjust="spacingAndGlyphs">ADMINISTRATION BUILDINGS</text>
<text x="46.5" y="222.3" text-anchor="middle" font-size="4.5" font-weight="normal" fill="#000" stroke="#000" stroke-width="0.18" textLength="31" lengthAdjust="spacingAndGlyphs">LUNCH FACILITY</text>
<text x="87.5" y="219" text-anchor="middle" font-size="4.5" font-weight="normal" fill="#000" stroke="#000" stroke-width="0.18" textLength="16" lengthAdjust="spacingAndGlyphs">FACILITY</text>
<text x="87.5" y="223.8" text-anchor="middle" font-size="4.5" font-weight="normal" fill="#000" stroke="#000" stroke-width="0.18" textLength="15" lengthAdjust="spacingAndGlyphs">FIRST AID</text>
<text x="128" y="222.3" text-anchor="middle" font-size="4.5" font-weight="normal" fill="#000" stroke="#000" stroke-width="0.18" textLength="33.5" lengthAdjust="spacingAndGlyphs">CHANGE FACILITY</text>
<text x="46.5" y="242.3" text-anchor="middle" font-size="4.5" font-weight="normal" fill="#000" stroke="#000" stroke-width="0.18" textLength="33" lengthAdjust="spacingAndGlyphs">ADMINISTRATION</text>
<text x="61.5" y="247.3" text-anchor="middle" font-size="4.5" font-weight="normal" fill="#000" stroke="#000" stroke-width="0.18">A</text>
<text x="87.5" y="241.3" text-anchor="middle" font-size="4.5" font-weight="normal" fill="#000" stroke="#000" stroke-width="0.18" textLength="33" lengthAdjust="spacingAndGlyphs">ADMINISTRATION</text>
<text x="102.5" y="246.3" text-anchor="middle" font-size="4.5" font-weight="normal" fill="#000" stroke="#000" stroke-width="0.18">B</text>
<text x="130.5" y="233.5" text-anchor="middle" font-size="4.5" font-weight="normal" fill="#000" stroke="#000" stroke-width="0.18" textLength="37" lengthAdjust="spacingAndGlyphs">FACILITY FIRST A.D/</text>
<text x="128.5" y="238.5" text-anchor="middle" font-size="4.5" font-weight="normal" fill="#000" stroke="#000" stroke-width="0.18" textLength="32" lengthAdjust="spacingAndGlyphs">COMMUNICATIONS</text>
<text x="178" y="204.6" text-anchor="middle" font-size="4.5" font-weight="normal" fill="#000" stroke="#000" stroke-width="0.18" textLength="8" lengthAdjust="spacingAndGlyphs">U408</text>
<text x="178" y="209.8" text-anchor="middle" font-size="4.5" font-weight="normal" fill="#000" stroke="#000" stroke-width="0.18" textLength="45.5" lengthAdjust="spacingAndGlyphs">RADIO COMMUNICATION</text>
<text x="181.5" y="255.8" text-anchor="middle" font-size="4.5" font-weight="normal" fill="#000" stroke="#000" stroke-width="0.18" textLength="22.8" lengthAdjust="spacingAndGlyphs">EV PARKING</text>
<text x="183" y="286.7" text-anchor="middle" font-size="4.5" font-weight="normal" fill="#000" stroke="#000" stroke-width="0.18" textLength="23.6" lengthAdjust="spacingAndGlyphs">EV PARKING</text>
<text x="93.9" y="282.5" text-anchor="middle" font-size="4.5" font-weight="normal" fill="#000" stroke="#000" stroke-width="0.18" textLength="8" lengthAdjust="spacingAndGlyphs">B102</text>
<text x="93.9" y="287.8" text-anchor="middle" font-size="4.5" font-weight="normal" fill="#000" stroke="#000" stroke-width="0.18" textLength="17" lengthAdjust="spacingAndGlyphs">PARKING</text>
<text x="27" y="360.8" text-anchor="start" font-size="4.5" font-weight="normal" fill="#000" stroke="#000" stroke-width="0.18" textLength="34" lengthAdjust="spacingAndGlyphs">S201 PLANT ROAD</text>
<text x="154" y="360.8" text-anchor="start" font-size="4.5" font-weight="normal" fill="#000" stroke="#000" stroke-width="0.18" textLength="10" lengthAdjust="spacingAndGlyphs">GATE</text>
<text x="83.2" y="551.8" text-anchor="middle" font-size="4.5" font-weight="normal" fill="#000" stroke="#000" stroke-width="0.18" textLength="8" lengthAdjust="spacingAndGlyphs">U115</text>
<text x="83.2" y="556.8" text-anchor="middle" font-size="4.5" font-weight="normal" fill="#000" stroke="#000" stroke-width="0.18" textLength="34.5" lengthAdjust="spacingAndGlyphs">SANITARY SEWER</text>
<text x="349.4" y="217.6" text-anchor="middle" font-size="3.6" font-weight="normal" fill="#000" stroke="#000" stroke-width="0.18" textLength="16" lengthAdjust="spacingAndGlyphs">CENTRIFUGE</text>
<text x="349.4" y="221.3" text-anchor="middle" font-size="3.6" font-weight="normal" fill="#000" stroke="#000" stroke-width="0.18" textLength="23.5" lengthAdjust="spacingAndGlyphs">(COVERED AREA)</text>
<text x="354" y="167" text-anchor="start" font-size="4.0" font-weight="normal" fill="#000" stroke="#000" stroke-width="0.18" textLength="25" lengthAdjust="spacingAndGlyphs">BA LOADOUT</text>
<text x="363" y="298.3" text-anchor="middle" font-size="3.2" font-weight="normal" fill="#000" stroke="#000" stroke-width="0.18" textLength="5" lengthAdjust="spacingAndGlyphs">U-E</text>
<text x="363" y="302.8" text-anchor="middle" font-size="3.2" font-weight="normal" fill="#000" stroke="#000" stroke-width="0.18" textLength="5" lengthAdjust="spacingAndGlyphs">HALL</text>
<text x="290" y="266.5" text-anchor="middle" font-size="3.4" font-weight="normal" fill="#555" stroke="#555" stroke-width="0.18" textLength="17" lengthAdjust="spacingAndGlyphs" transform="rotate(-90 290 266.5)">GUARDHOUSE</text>
<text x="287.5" y="291" text-anchor="middle" font-size="4" font-weight="normal" fill="#000" stroke="#000" stroke-width="0.18">C</text>
<text x="281.3" y="329.8" text-anchor="middle" font-size="4.5" font-weight="normal" fill="#000" stroke="#000" stroke-width="0.18" textLength="10" lengthAdjust="spacingAndGlyphs">P3BK</text>
<text x="281.3" y="334.8" text-anchor="middle" font-size="4.5" font-weight="normal" fill="#000" stroke="#000" stroke-width="0.18" textLength="20" lengthAdjust="spacingAndGlyphs">BORIC ACID</text>
<text x="281.3" y="340" text-anchor="middle" font-size="4.5" font-weight="normal" fill="#000" stroke="#000" stroke-width="0.18" textLength="16" lengthAdjust="spacingAndGlyphs">BUILDING</text>
<text x="525.7" y="335" text-anchor="middle" font-size="4.5" font-weight="normal" fill="#000" stroke="#000" stroke-width="0.18" textLength="37" lengthAdjust="spacingAndGlyphs">GYPSUM LOADOUT</text>
<text x="527.3" y="356.8" text-anchor="middle" font-size="4.5" font-weight="normal" fill="#000" stroke="#000" stroke-width="0.18" textLength="5" lengthAdjust="spacingAndGlyphs">P6</text>
<text x="527.3" y="360.8" text-anchor="middle" font-size="4.5" font-weight="normal" fill="#000" stroke="#000" stroke-width="0.18" textLength="35" lengthAdjust="spacingAndGlyphs">GYPSUM PLANT BUILDING</text>
<text x="490.6" y="425.8" text-anchor="middle" font-size="4.5" font-weight="normal" fill="#000" stroke="#000" stroke-width="0.18" textLength="5" lengthAdjust="spacingAndGlyphs">P6</text>
<text x="490.6" y="431" text-anchor="middle" font-size="4.5" font-weight="normal" fill="#000" stroke="#000" stroke-width="0.18" textLength="31" lengthAdjust="spacingAndGlyphs">GYPSUM CIRCUIT</text>
<text x="276.9" y="425.5" text-anchor="middle" font-size="4.5" font-weight="normal" fill="#000" stroke="#000" stroke-width="0.18" textLength="5" lengthAdjust="spacingAndGlyphs">P3</text>
<text x="276.9" y="430.5" text-anchor="middle" font-size="4.5" font-weight="normal" fill="#000" stroke="#000" stroke-width="0.18" textLength="23" lengthAdjust="spacingAndGlyphs">BORIC ACID</text>
<text x="276.9" y="435.5" text-anchor="middle" font-size="4.5" font-weight="normal" fill="#000" stroke="#000" stroke-width="0.18" textLength="15" lengthAdjust="spacingAndGlyphs">CIRCUIT</text>
<text x="377" y="412.5" text-anchor="middle" font-size="3.8" font-weight="normal" fill="#000" stroke="#000" stroke-width="0.18" textLength="18" lengthAdjust="spacingAndGlyphs">HAZARDOUS</text>
<text x="377" y="416" text-anchor="middle" font-size="3.8" font-weight="normal" fill="#000" stroke="#000" stroke-width="0.18" textLength="13" lengthAdjust="spacingAndGlyphs">STORAGE</text>
<text x="377" y="419.5" text-anchor="middle" font-size="3.8" font-weight="normal" fill="#000" stroke="#000" stroke-width="0.18" textLength="13" lengthAdjust="spacingAndGlyphs">BUILDING</text>
<text x="377" y="423" text-anchor="middle" font-size="3.8" font-weight="normal" fill="#000" stroke="#000" stroke-width="0.18" textLength="11" lengthAdjust="spacingAndGlyphs">(TBD)</text>
<text x="336" y="456.8" text-anchor="middle" font-size="4.5" font-weight="normal" fill="#000" stroke="#000" stroke-width="0.18" textLength="32.4" lengthAdjust="spacingAndGlyphs" transform="rotate(90 336 456.8)">U203 PIPERACK</text>
<text x="356" y="441" text-anchor="middle" font-size="3.6" font-weight="normal" fill="#000" stroke="#000" stroke-width="0.18" textLength="20" lengthAdjust="spacingAndGlyphs" transform="rotate(-90 356 441)">PRECIPITATE</text>
<text x="359.5" y="441" text-anchor="middle" font-size="3.6" font-weight="normal" fill="#000" stroke="#000" stroke-width="0.18" textLength="19" lengthAdjust="spacingAndGlyphs" transform="rotate(-90 359.5 441)">CENTRIFUGE</text>
<text x="363" y="441" text-anchor="middle" font-size="3.6" font-weight="normal" fill="#000" stroke="#000" stroke-width="0.18" textLength="9" lengthAdjust="spacingAndGlyphs" transform="rotate(-90 363 441)">TANK 1</text>
<text x="356" y="473" text-anchor="middle" font-size="3.6" font-weight="normal" fill="#000" stroke="#000" stroke-width="0.18" textLength="21" lengthAdjust="spacingAndGlyphs" transform="rotate(-90 356 473)">SOLUTION FEED</text>
<text x="359.5" y="473" text-anchor="middle" font-size="3.6" font-weight="normal" fill="#000" stroke="#000" stroke-width="0.18" textLength="19" lengthAdjust="spacingAndGlyphs" transform="rotate(-90 359.5 473)">TANK AREA</text>
<text x="363" y="473" text-anchor="middle" font-size="3.6" font-weight="normal" fill="#000" stroke="#000" stroke-width="0.18" textLength="10" lengthAdjust="spacingAndGlyphs" transform="rotate(-90 363 473)">TK-2001</text>
<text x="444" y="498.6" text-anchor="start" font-size="4.5" font-weight="normal" fill="#000" stroke="#000" stroke-width="0.18" textLength="30" lengthAdjust="spacingAndGlyphs">U202 PIPERACK</text>
<text x="478" y="518.8" text-anchor="middle" font-size="4.5" font-weight="normal" fill="#000" stroke="#000" stroke-width="0.18" textLength="8" lengthAdjust="spacingAndGlyphs">U303</text>
<text x="478" y="524" text-anchor="middle" font-size="4.5" font-weight="normal" fill="#000" stroke="#000" stroke-width="0.18" textLength="17" lengthAdjust="spacingAndGlyphs">E-HOUSE</text>
<text x="478" y="463.8" text-anchor="middle" font-size="4.5" font-weight="normal" fill="#000" stroke="#000" stroke-width="0.18" textLength="5" lengthAdjust="spacingAndGlyphs">P5</text>
<text x="478" y="468.6" text-anchor="middle" font-size="4.5" font-weight="normal" fill="#000" stroke="#000" stroke-width="0.18" textLength="18" lengthAdjust="spacingAndGlyphs">IMPURITY</text>
<text x="478" y="473.4" text-anchor="middle" font-size="4.5" font-weight="normal" fill="#000" stroke="#000" stroke-width="0.18" textLength="32.5" lengthAdjust="spacingAndGlyphs">REMOVAL CIRCUIT</text>
<text x="564" y="496.8" text-anchor="start" font-size="4.5" font-weight="normal" fill="#000" stroke="#000" stroke-width="0.18" textLength="26" lengthAdjust="spacingAndGlyphs">P1 REAGENTS</text>
<text x="531.8" y="547" text-anchor="middle" font-size="4.5" font-weight="normal" fill="#000" stroke="#000" stroke-width="0.18" textLength="31.6" lengthAdjust="spacingAndGlyphs" transform="rotate(-90 531.8 547)">U201 PIPERACK</text>
<text x="395" y="538" text-anchor="middle" font-size="4.5" font-weight="normal" fill="#000" stroke="#000" stroke-width="0.18" textLength="5" lengthAdjust="spacingAndGlyphs">U1</text>
<text x="395" y="543" text-anchor="middle" font-size="4.5" font-weight="normal" fill="#000" stroke="#000" stroke-width="0.18" textLength="18" lengthAdjust="spacingAndGlyphs">UTILITIES</text>
<text x="302.5" y="615.5" text-anchor="middle" font-size="4.5" font-weight="normal" fill="#000" stroke="#000" stroke-width="0.18" textLength="8" lengthAdjust="spacingAndGlyphs">U300</text>
<text x="302.5" y="620.8" text-anchor="middle" font-size="4.5" font-weight="normal" fill="#000" stroke="#000" stroke-width="0.18" textLength="16" lengthAdjust="spacingAndGlyphs">E-HOUSE</text>
<text x="288" y="643.5" text-anchor="middle" font-size="3.6" font-weight="normal" fill="#000" stroke="#000" stroke-width="0.18" textLength="17" lengthAdjust="spacingAndGlyphs">GENERATOR</text>
<text x="459" y="622.8" text-anchor="middle" font-size="4.5" font-weight="normal" fill="#000" stroke="#000" stroke-width="0.18" textLength="5" lengthAdjust="spacingAndGlyphs">P4</text>
<text x="459" y="627.8" text-anchor="middle" font-size="4.5" font-weight="normal" fill="#000" stroke="#000" stroke-width="0.18" textLength="18" lengthAdjust="spacingAndGlyphs">IMPURITY</text>
<text x="459" y="632.8" text-anchor="middle" font-size="4.5" font-weight="normal" fill="#000" stroke="#000" stroke-width="0.18" textLength="33.6" lengthAdjust="spacingAndGlyphs">REMOVAL CIRCUIT</text>
<text x="459.5" y="677.8" text-anchor="middle" font-size="4.5" font-weight="normal" fill="#000" stroke="#000" stroke-width="0.18" textLength="5" lengthAdjust="spacingAndGlyphs">P2</text>
<text x="459.5" y="682.8" text-anchor="middle" font-size="4.5" font-weight="normal" fill="#000" stroke="#000" stroke-width="0.18" textLength="29" lengthAdjust="spacingAndGlyphs">PLS RECOVERY</text>
<text x="459.5" y="687.8" text-anchor="middle" font-size="4.5" font-weight="normal" fill="#000" stroke="#000" stroke-width="0.18" textLength="8" lengthAdjust="spacingAndGlyphs">AND</text>
<text x="459.5" y="692.8" text-anchor="middle" font-size="4.5" font-weight="normal" fill="#000" stroke="#000" stroke-width="0.18" textLength="29" lengthAdjust="spacingAndGlyphs">CLARIFICATION</text>
<text x="457.5" y="722.8" text-anchor="middle" font-size="4.5" font-weight="normal" fill="#000" stroke="#000" stroke-width="0.18" textLength="5" lengthAdjust="spacingAndGlyphs">P2</text>
<text x="457.5" y="727.8" text-anchor="middle" font-size="4.5" font-weight="normal" fill="#000" stroke="#000" stroke-width="0.18" textLength="39" lengthAdjust="spacingAndGlyphs">PLS RECOVERY AND</text>
<text x="457.5" y="732.8" text-anchor="middle" font-size="4.5" font-weight="normal" fill="#000" stroke="#000" stroke-width="0.18" textLength="29" lengthAdjust="spacingAndGlyphs">CLARIFICATION</text>
<text x="457.5" y="737.8" text-anchor="middle" font-size="4.5" font-weight="normal" fill="#000" stroke="#000" stroke-width="0.18" textLength="14" lengthAdjust="spacingAndGlyphs">FUTURE</text>
<text x="518" y="703.5" text-anchor="middle" font-size="3.6" font-weight="normal" fill="#000" stroke="#000" stroke-width="0.18" textLength="17" lengthAdjust="spacingAndGlyphs">WAREHOUSE</text>
<text x="518" y="707.5" text-anchor="middle" font-size="3.6" font-weight="normal" fill="#000" stroke="#000" stroke-width="0.18" textLength="11" lengthAdjust="spacingAndGlyphs">ACCESS</text>
<text x="548" y="790.5" text-anchor="middle" font-size="4.5" font-weight="normal" fill="#000" stroke="#000" stroke-width="0.18" textLength="8" lengthAdjust="spacingAndGlyphs">U501</text>
<text x="548" y="795.7" text-anchor="middle" font-size="4.5" font-weight="normal" fill="#000" stroke="#000" stroke-width="0.18" textLength="20" lengthAdjust="spacingAndGlyphs">NO METER</text>
<text x="461.4" y="821" text-anchor="middle" font-size="4.5" font-weight="normal" fill="#000" stroke="#000" stroke-width="0.18" textLength="8" lengthAdjust="spacingAndGlyphs">U112</text>
<text x="461.4" y="826.6" text-anchor="middle" font-size="4.5" font-weight="normal" fill="#000" stroke="#000" stroke-width="0.18" textLength="45" lengthAdjust="spacingAndGlyphs">STORM WATER SYSTEM</text>
<text x="532.9" y="881.8" text-anchor="middle" font-size="4.5" font-weight="normal" fill="#000" stroke="#000" stroke-width="0.18" textLength="28.8" lengthAdjust="spacingAndGlyphs">BATTERY LIMIT</text>
<text x="532.9" y="886.8" text-anchor="middle" font-size="4.5" font-weight="normal" fill="#000" stroke="#000" stroke-width="0.18" textLength="31.6" lengthAdjust="spacingAndGlyphs">INJECTION WELL</text>
<text x="532.9" y="891.8" text-anchor="middle" font-size="4.5" font-weight="normal" fill="#000" stroke="#000" stroke-width="0.18" textLength="29.7" lengthAdjust="spacingAndGlyphs">SLEEPER RACK</text>
<text x="355" y="716" text-anchor="middle" font-size="4" font-weight="normal" fill="#000" stroke="#000" stroke-width="0.18" textLength="8" lengthAdjust="spacingAndGlyphs">U321</text>
<text x="355" y="721.3" text-anchor="middle" font-size="4" font-weight="normal" fill="#000" stroke="#000" stroke-width="0.18" textLength="19" lengthAdjust="spacingAndGlyphs">PLANT SITE</text>
<text x="355" y="726.5" text-anchor="middle" font-size="4" font-weight="normal" fill="#000" stroke="#000" stroke-width="0.18" textLength="13" lengthAdjust="spacingAndGlyphs">POWER</text>
<text x="355" y="731.8" text-anchor="middle" font-size="4" font-weight="normal" fill="#000" stroke="#000" stroke-width="0.18" textLength="26.4" lengthAdjust="spacingAndGlyphs">DISTRIBUTION</text>
<text x="310" y="750.8" text-anchor="middle" font-size="4" font-weight="normal" fill="#000" stroke="#000" stroke-width="0.18" textLength="15.6" lengthAdjust="spacingAndGlyphs">GD-421-M</text>
</g>
<g font-family="Liberation Sans, sans-serif">
<text x="64.3" y="861.8" font-size="21.6" font-weight="bold" font-style="italic" fill="#0c3d78" stroke="#0c3d78" stroke-width="0.9" textLength="78" lengthAdjust="spacingAndGlyphs">FLUOR</text>
<circle cx="145.2" cy="862.4" r="2.2" fill="#5a80b0"/>
<line x1="40.9" y1="870.3" x2="398.8" y2="870.3" stroke="#333" stroke-width="0.9"/>
<text x="42.3" y="877.40" font-size="4.9" font-weight="bold" fill="#1a1a1a" stroke="#1a1a1a" stroke-width="0.1" textLength="118" lengthAdjust="spacingAndGlyphs">NOTICE: THIS DRAWING CONTAINS INTELLECTUAL PROPERTY</text>
<text x="42.3" y="882.61" font-size="4.9" font-weight="bold" fill="#1a1a1a" stroke="#1a1a1a" stroke-width="0.1" textLength="123" lengthAdjust="spacingAndGlyphs">OF 5E ADVANCED MATERIALS, AND IS LENT TO THE BORROWER</text>
<text x="42.3" y="887.82" font-size="4.9" font-weight="bold" fill="#1a1a1a" stroke="#1a1a1a" stroke-width="0.1" textLength="119" lengthAdjust="spacingAndGlyphs">FOR THEIR CONFIDENTIAL USE ONLY, AND IN CONSIDERATION</text>
<text x="42.3" y="893.03" font-size="4.9" font-weight="bold" fill="#1a1a1a" stroke="#1a1a1a" stroke-width="0.1" textLength="117" lengthAdjust="spacingAndGlyphs">OF THE LOAN OF THIS DRAWING, THE BORROWER PROMISES</text>
<text x="42.3" y="898.24" font-size="4.9" font-weight="bold" fill="#1a1a1a" stroke="#1a1a1a" stroke-width="0.1" textLength="124" lengthAdjust="spacingAndGlyphs">AND AGREES TO RETURN IT UPON REQUEST AND AGREES THAT</text>
<text x="42.3" y="903.45" font-size="4.9" font-weight="bold" fill="#1a1a1a" stroke="#1a1a1a" stroke-width="0.1" textLength="119" lengthAdjust="spacingAndGlyphs">IT WILL NOT BE REPRODUCED, COPIED, LENT OR OTHERWISE</text>
<text x="42.3" y="908.66" font-size="4.9" font-weight="bold" fill="#1a1a1a" stroke="#1a1a1a" stroke-width="0.1" textLength="119" lengthAdjust="spacingAndGlyphs">DISPOSED OF DIRECTLY OR INDIRECTLY, NOR USED FOR ANY</text>
<text x="42.3" y="913.87" font-size="4.9" font-weight="bold" fill="#1a1a1a" stroke="#1a1a1a" stroke-width="0.1" textLength="110" lengthAdjust="spacingAndGlyphs">PURPOSE OTHER THAN THAT FOR WHICH IS FURNISHED.</text>
<g stroke="#333" stroke-width="0.8" fill="none">
<line x1="169.3" y1="836.3" x2="169.3" y2="917.3"/><line x1="230.6" y1="836.3" x2="230.6" y2="917.3"/><line x1="205.5" y1="870.3" x2="205.5" y2="917.3"/>
<line x1="169.3" y1="882.4" x2="230.6" y2="882.4" stroke="#777"/><line x1="169.3" y1="894.1" x2="230.6" y2="894.1" stroke="#777"/><line x1="169.3" y1="906.2" x2="230.6" y2="906.2" stroke="#777"/>
<line x1="169.3" y1="846.9" x2="230.6" y2="846.9" stroke="#bbb" stroke-width="1"/><line x1="169.3" y1="858.4" x2="230.6" y2="858.4" stroke="#bbb" stroke-width="0.8"/>
<line x1="230.6" y1="901.2" x2="398.8" y2="901.2"/><line x1="280.4" y1="901.2" x2="280.4" y2="917"/><line x1="385.1" y1="901.2" x2="385.1" y2="917"/>
</g>
<text x="170.3" y="839.7" font-size="4.1" font-weight="bold" fill="#222" textLength="15.6" lengthAdjust="spacingAndGlyphs">CONTRACT</text>
<text x="170.3" y="845.2" font-size="5.1" fill="#000" stroke="#000" stroke-width="0.15" textLength="11.6" lengthAdjust="spacingAndGlyphs">5EAM</text>
<text x="170.3" y="851.6" font-size="4.1" font-weight="bold" fill="#222" textLength="21.4" lengthAdjust="spacingAndGlyphs">DESIGNED BY</text>
<text x="170.3" y="857.1" font-size="5.1" fill="#000" stroke="#000" stroke-width="0.15" textLength="26.1" lengthAdjust="spacingAndGlyphs">M.JOHNSON</text>
<text x="170.3" y="863.6" font-size="4.1" font-weight="bold" fill="#222" textLength="19.5" lengthAdjust="spacingAndGlyphs">CHECKED BY</text>
<text x="170.3" y="869.2" font-size="5.1" fill="#000" stroke="#000" stroke-width="0.15" textLength="29.0" lengthAdjust="spacingAndGlyphs">J. WALDYKE</text>
<text x="170.3" y="875.6" font-size="4.1" font-weight="bold" fill="#222" textLength="24.0" lengthAdjust="spacingAndGlyphs">SUPERVISOR</text>
<text x="170.3" y="881.2" font-size="5.1" fill="#000" stroke="#000" stroke-width="0.15" textLength="26.1" lengthAdjust="spacingAndGlyphs">M.JOHNSON</text>
<text x="206.6" y="875.6" font-size="4.1" font-weight="bold" fill="#222" textLength="18.5" lengthAdjust="spacingAndGlyphs">APP DATE</text>
<text x="206.6" y="881.2" font-size="5.1" fill="#000" stroke="#000" stroke-width="0.15" textLength="17.5" lengthAdjust="spacingAndGlyphs">06/19/24</text>
<text x="170.3" y="887.4" font-size="4.1" font-weight="bold" fill="#222" textLength="33.6" lengthAdjust="spacingAndGlyphs">LEAD ENGR/SPEC</text>
<text x="170.3" y="893" font-size="5.1" fill="#000" stroke="#000" stroke-width="0.15" textLength="29.0" lengthAdjust="spacingAndGlyphs">C. ANGELES</text>
<text x="206.6" y="887.4" font-size="4.1" font-weight="bold" fill="#222" textLength="18.5" lengthAdjust="spacingAndGlyphs">APP DATE</text>
<text x="206.6" y="893" font-size="5.1" fill="#000" stroke="#000" stroke-width="0.15" textLength="17.5" lengthAdjust="spacingAndGlyphs">06/19/24</text>
<text x="170.3" y="899.2" font-size="4.1" font-weight="bold" fill="#222" textLength="12.0" lengthAdjust="spacingAndGlyphs">FLUOR</text>
<text x="170.3" y="904.8" font-size="5.1" fill="#000" stroke="#000" stroke-width="0.15" textLength="20.3" lengthAdjust="spacingAndGlyphs">K. HAMM</text>
<text x="206.6" y="899.2" font-size="4.1" font-weight="bold" fill="#222" textLength="18.5" lengthAdjust="spacingAndGlyphs">APP DATE</text>
<text x="206.6" y="904.8" font-size="5.1" fill="#000" stroke="#000" stroke-width="0.15" textLength="17.5" lengthAdjust="spacingAndGlyphs">06/19/24</text>
<text x="170.3" y="911" font-size="4.1" font-weight="bold" fill="#222" textLength="14.4" lengthAdjust="spacingAndGlyphs">CLIENT</text>
<text x="170.3" y="916.6" font-size="5.1" fill="#000" stroke="#000" stroke-width="0.15" textLength="29.0" lengthAdjust="spacingAndGlyphs">J. FUSSELL</text>
<text x="206.6" y="911" font-size="4.1" font-weight="bold" fill="#222" textLength="18.5" lengthAdjust="spacingAndGlyphs">APP DATE</text>
<text x="206.6" y="916.6" font-size="5.1" fill="#000" stroke="#000" stroke-width="0.15" textLength="17.5" lengthAdjust="spacingAndGlyphs">06/19/24</text>
<text x="316.2" y="879.6" font-size="8.6" fill="#111" text-anchor="middle" textLength="26.5" lengthAdjust="spacingAndGlyphs">PIPING</text>
<text x="316.2" y="888.3" font-size="8.6" fill="#111" text-anchor="middle" textLength="43" lengthAdjust="spacingAndGlyphs">PLOT PLAN</text>
<text x="316.2" y="897.1" font-size="8.6" fill="#111" text-anchor="middle" textLength="88.4" lengthAdjust="spacingAndGlyphs">PROCESSING FACILITY</text>
<text x="232" y="906.3" font-size="3.8" font-weight="bold" fill="#222" textLength="11" lengthAdjust="spacingAndGlyphs">SCALE</text>
<text x="255.2" y="914" font-size="5.2" fill="#000" stroke="#000" stroke-width="0.15" text-anchor="middle" textLength="14.5" lengthAdjust="spacingAndGlyphs">1"=80'</text>
<text x="282.6" y="906.3" font-size="3.8" font-weight="bold" fill="#222" textLength="36" lengthAdjust="spacingAndGlyphs">DRAWING NUMBER</text>
<text x="332.9" y="914.2" font-size="5.6" fill="#000" stroke="#000" stroke-width="0.15" text-anchor="middle" textLength="66.7" lengthAdjust="spacingAndGlyphs">5EAM-G1-PPL-250-00001</text>
<text x="388" y="906.3" font-size="3.8" font-weight="bold" fill="#222" textLength="7.5" lengthAdjust="spacingAndGlyphs">REV</text>
<text x="390.3" y="914.2" font-size="5.6" fill="#000" stroke="#000" stroke-width="0.15">F</text>
<text x="277.5" y="861" font-size="23" font-weight="bold" font-style="italic" fill="#111" textLength="16" lengthAdjust="spacingAndGlyphs">5</text>
<line x1="300.8" y1="838.2" x2="289.5" y2="866.3" stroke="#86c520" stroke-width="1.9"/>
<path d="M302.2 844.7 L311.5 844.7 L310.9 847.2 L301.6 847.2 Z M299.2 851.4 L307.2 851.4 L306.6 853.8 L298.6 853.8 Z M296.3 858 L306.4 858 L305.8 860.6 L295.7 860.6 Z" fill="#86c520"/>
<text x="314.8" y="851" font-size="5.4" font-weight="bold" fill="#222" textLength="33.8" lengthAdjust="spacingAndGlyphs">ADVANCED</text>
<text x="314.8" y="858.5" font-size="5.4" font-weight="bold" fill="#222" textLength="33.5" lengthAdjust="spacingAndGlyphs">MATERIALS</text>
<line x1="587.7" y1="12.7" x2="587.7" y2="128.3" stroke="#888" stroke-width="0.8"/>
<path d="M587.7 13 L591.6 42.6 L587.7 42 Z" fill="#111"/>
<path d="M587.7 97.7 L591.5 101.2 L591.5 128.3 L587.7 125 Z" fill="#111"/>
<path d="M584 78.5 L585.8 59.5 L590.6 77.5 L592.3 58" stroke="#444" stroke-width="0.8" fill="none"/>
<path d="M583.6 78.8 L584.4 72 L585.2 72.5 Z M592.3 58 L591.6 64 L590.9 63.5 Z" fill="#111"/>
</g>

</svg>
<div id="frame"></div>
</body></html>
